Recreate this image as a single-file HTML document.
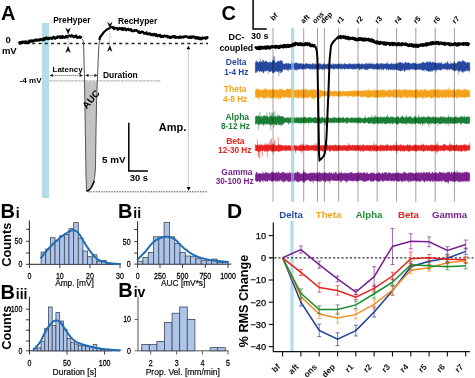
<!DOCTYPE html>
<html><head><meta charset="utf-8"><style>
html,body{margin:0;padding:0;background:#fff;}
svg{display:block;}
</style></head><body>
<svg width="475" height="378" viewBox="0 0 475 378">
<rect width="475" height="378" fill="#fff"/>
<text x="1" y="19.8" font-family="Liberation Sans" font-weight="bold" font-size="20" fill="#000" text-anchor="start" >A</text>
<rect x="42" y="23" width="7" height="175" fill="#b5dde8"/>
<text x="8.1" y="42.8" font-family="Liberation Sans" font-weight="bold" font-size="9.6" fill="#000" text-anchor="middle" >0</text>
<text x="9.3" y="54" font-family="Liberation Sans" font-weight="bold" font-size="9.5" fill="#000" text-anchor="middle" >mV</text>
<text x="53.2" y="23.2" font-family="Liberation Sans" font-weight="bold" font-size="8.4" fill="#000" text-anchor="start" >PreHyper</text>
<text x="117.9" y="24" font-family="Liberation Sans" font-weight="bold" font-size="8.45" fill="#000" text-anchor="start" >RecHyper</text>
<text x="52.6" y="71.6" font-family="Liberation Sans" font-weight="bold" font-size="7.95" fill="#000" text-anchor="start" >Latency</text>
<text x="103" y="78.4" font-family="Liberation Sans" font-weight="bold" font-size="8.45" fill="#000" text-anchor="start" >Duration</text>
<text x="19.6" y="82.6" font-family="Liberation Sans" font-weight="bold" font-size="8.1" fill="#000" text-anchor="start" >-4 mV</text>
<text x="158.8" y="130.9" font-family="Liberation Sans" font-weight="bold" font-size="11" fill="#000" text-anchor="start" >Amp.</text>
<text x="102" y="162.7" font-family="Liberation Sans" font-weight="bold" font-size="9.8" fill="#000" text-anchor="start" >5 mV</text>
<text x="129.7" y="181" font-family="Liberation Sans" font-weight="bold" font-size="9.4" fill="#000" text-anchor="start" >30 s</text>
<line x1="20" y1="43.5" x2="208" y2="43.5" stroke="#222" stroke-width="1.4" stroke-dasharray="3,3.2"/>
<line x1="49" y1="80.9" x2="161" y2="80.9" stroke="#a0a0a0" stroke-width="0.9" stroke-dasharray="3,0.6"/>
<line x1="88" y1="191.8" x2="207" y2="191.8" stroke="#444" stroke-width="0.9" stroke-dasharray="1.6,1"/>
<path d="M84.5,81.3 L85.3,130 L86,175 L86.6,191 Q90.5,190 92.3,185.5 Q95.2,180 95.5,165 L96,130 L96.6,100 L97.3,81.3 Z" fill="#c2c2c2"/>
<polyline points="18.70,43.11 19.20,42.64 19.70,43.66 20.20,42.29 20.70,43.22 21.20,42.76 21.70,42.00 22.20,42.90 22.70,41.77 23.20,42.56 23.70,41.67 24.20,41.63 24.70,42.27 25.20,43.07 25.70,41.43 26.20,41.56 26.70,42.36 27.20,42.98 27.70,42.08 28.20,41.59 28.70,42.78 29.20,40.64 29.70,42.34 30.20,41.00 30.70,40.59 31.20,40.44 31.70,40.77 32.20,41.80 32.70,40.31 33.20,41.10 33.70,41.14 34.20,40.46 34.70,40.76 35.20,39.60 35.70,39.51 36.20,39.74 36.70,40.69 37.20,40.04 37.70,39.71 38.20,40.21 38.70,39.83 39.20,39.40 39.70,40.40 40.20,40.10 40.70,39.02 41.20,39.66 41.70,39.47 42.20,40.15 42.70,39.75 43.20,38.69 43.70,40.13 44.20,38.15 44.70,38.72 45.20,39.38 45.70,37.97 46.20,38.62 46.70,37.55 47.20,38.85 47.70,38.97 48.20,38.47 48.70,39.05 49.20,37.73 49.70,38.48 50.20,38.19 50.70,38.13 51.20,37.82 51.70,38.63 52.20,38.82 52.70,37.75 53.20,38.14 53.70,36.77 54.20,38.15 54.70,37.99 55.20,38.72 55.70,38.31 56.20,37.09 56.70,37.28 57.20,37.87 57.70,36.41 58.20,37.34 58.70,36.66 59.20,36.51 59.70,36.35 60.20,37.87 60.70,36.41 61.20,36.61 61.70,36.87 62.20,37.87 62.70,36.07 63.20,36.83 63.70,36.99 64.20,37.67 64.70,37.47 65.20,37.52 65.70,36.17 66.20,36.42 66.70,36.24 67.20,37.34 67.70,37.44 68.20,35.63 68.70,35.67 69.20,35.78 69.70,35.76 70.20,36.30 70.70,36.52 71.20,35.79 71.70,35.20 72.20,36.10 72.70,35.98 73.20,36.40 73.70,37.23 74.20,36.64 74.70,36.24 75.20,36.51 75.70,36.77 76.20,35.53 76.70,37.52 77.20,37.39 77.70,37.73 78.20,37.69 78.70,36.93 79.20,37.07 79.70,36.55 80.20,37.93 80.70,36.99 81.20,37.33 81.70,37.96" fill="none" stroke="#000" stroke-width="2.3" stroke-linejoin="round"/>
<path d="M82,38.8 Q83.5,40 83.6,44 L84.5,81 L85.3,130 L86,175 L86.6,191 Q90.5,190 92.3,185.5 Q95.2,180 95.5,165 L96,130 L96.6,100 L97.3,81.3 L98.6,50 Q99,40 101,37 L105,31 L110,28.5" fill="none" stroke="#555" stroke-width="1"/>
<path d="M86.6,191.3 Q90.5,190 92.3,185.5 Q93.5,183.5 94.2,181" fill="none" stroke="#000" stroke-width="1.5"/>
<polyline points="110.00,27.12 110.50,27.55 111.00,27.05 111.50,27.01 112.00,27.38 112.50,27.35 113.00,27.95 113.50,27.34 114.00,29.11 114.50,28.66 115.00,27.80 115.50,28.04 116.00,28.27 116.50,28.34 117.00,27.89 117.50,29.38 118.00,29.71 118.50,28.69 119.00,28.76 119.50,28.00 120.00,28.07 120.50,28.59 121.00,28.47 121.50,29.63 122.00,28.34 122.50,28.10 123.00,29.99 123.50,29.18 124.00,28.45 124.50,29.28 125.00,28.29 125.50,29.33 126.00,30.26 126.50,30.07 127.00,29.77 127.50,28.94 128.00,29.19 128.50,28.82 129.00,30.07 129.50,29.63 130.00,30.16 130.50,29.37 131.00,29.28 131.50,30.57 132.00,31.03 132.50,30.88 133.00,30.90 133.50,31.04 134.00,31.00 134.50,30.09 135.00,30.79 135.50,30.58 136.00,30.04 136.50,30.15 137.00,30.77 137.50,30.84 138.00,31.83 138.50,32.47 139.00,31.56 139.50,32.66 140.00,32.88 140.50,32.91 141.00,31.83 141.50,31.64 142.00,31.75 142.50,31.79 143.00,31.91 143.50,32.85 144.00,33.50 144.50,33.48 145.00,32.86 145.50,33.31 146.00,33.70 146.50,32.37 147.00,33.62 147.50,34.22 148.00,34.06 148.50,34.10 149.00,33.66 149.50,33.16 150.00,34.48 150.50,33.66 151.00,34.69 151.50,35.13 152.00,34.07 152.50,34.18 153.00,35.36 153.50,35.01 154.00,34.00 154.50,34.01 155.00,34.15 155.50,35.75 156.00,35.65 156.50,34.43 157.00,35.88 157.50,36.29 158.00,35.73 158.50,35.22 159.00,35.71 159.50,34.97 160.00,34.83 160.50,36.80 161.00,36.21 161.50,36.02 162.00,36.89 162.50,35.94 163.00,36.87 163.50,36.84 164.00,35.66 164.50,35.80 165.00,35.94 165.50,35.89 166.00,36.63 166.50,36.03 167.00,36.41 167.50,35.89 168.00,37.50 168.50,36.44 169.00,36.71 169.50,37.01 170.00,37.71 170.50,36.77 171.00,37.79 171.50,36.98 172.00,37.06 172.50,37.07 173.00,36.09 173.50,36.96 174.00,36.47 174.50,36.13 175.00,37.75 175.50,36.52 176.00,37.15 176.50,37.68 177.00,37.36 177.50,36.93 178.00,37.34 178.50,37.44 179.00,37.92 179.50,36.59 180.00,37.52 180.50,36.79 181.00,36.73 181.50,37.61 182.00,36.98 182.50,36.97 183.00,37.26 183.50,37.45 184.00,36.41 184.50,36.64 185.00,36.31 185.50,36.39 186.00,36.83 186.50,36.41 187.00,36.65 187.50,36.61 188.00,37.60 188.50,37.19 189.00,37.61 189.50,37.81 190.00,36.52 190.50,37.18 191.00,38.01 191.50,37.86 192.00,36.51 192.50,36.54 193.00,37.24 193.50,36.57 194.00,36.96 194.50,36.69 195.00,37.94 195.50,38.23 196.00,38.51 196.50,37.09 197.00,38.27 197.50,38.22 198.00,37.25 198.50,38.79 199.00,39.02 199.50,37.58 200.00,39.11 200.50,38.00 201.00,38.19 201.50,39.20 202.00,38.89 202.50,37.55 203.00,38.10 203.50,38.27 204.00,37.93 204.50,37.65 205.00,37.90 205.50,38.71 206.00,37.31 206.50,38.39 207.00,38.17 207.50,37.33 208.00,37.96" fill="none" stroke="#000" stroke-width="2.3" stroke-linejoin="round"/>
<path d="M99.4,40 Q99.7,37.5 100.5,36.5 L104,32 L107,29.4 L110.5,27.8" fill="none" stroke="#000" stroke-width="2.1"/>
<path d="M65.89999999999999,28.3 L68.1,30.1 L70.3,28.3 L68.1,33.8 Z" fill="#000" stroke="#000" stroke-width="0.5" stroke-linejoin="round"/>
<path d="M65.89999999999999,52.4 L68.1,50.6 L70.3,52.4 L68.1,46.5 Z" fill="#000" stroke="#000" stroke-width="0.5" stroke-linejoin="round"/>
<line x1="68.1" y1="33.8" x2="68.1" y2="46.5" stroke="#999" stroke-width="0.8" stroke-dasharray="1,0.7"/>
<path d="M107.6,22.5 L109.8,24.3 L112.0,22.5 L109.8,27.6 Z" fill="#000" stroke="#000" stroke-width="0.5" stroke-linejoin="round"/>
<path d="M107.6,51.2 L109.8,49.400000000000006 L112.0,51.2 L109.8,45.8 Z" fill="#000" stroke="#000" stroke-width="0.5" stroke-linejoin="round"/>
<line x1="109.8" y1="27.6" x2="109.8" y2="45.8" stroke="#999" stroke-width="0.8" stroke-dasharray="1,0.7"/>
<line x1="52.6" y1="75.4" x2="80" y2="75.4" stroke="#444" stroke-width="0.8" stroke-dasharray="1.3,0.7"/>
<path d="M49.6,75.4 l3.6,-1.7 l-0.6,1.7 l0.6,1.7 z M83,75.4 l-3.6,-1.7 l0.6,1.7 l-0.6,1.7 z" fill="#111"/>
<line x1="88.2" y1="75.4" x2="94.6" y2="75.4" stroke="#444" stroke-width="0.8" stroke-dasharray="1.3,0.7"/>
<path d="M85.2,75.4 l3.6,-1.7 l-0.6,1.7 l0.6,1.7 z M97.6,75.4 l-3.6,-1.7 l0.6,1.7 l-0.6,1.7 z" fill="#111"/>
<line x1="188.3" y1="49" x2="188.3" y2="188" stroke="#777" stroke-width="0.6" stroke-dasharray="1.2,0.8"/>
<path d="M188.4,45.7 l-1.9,3.5 l3.8,0 z M188.6,190.8 l-1.9,-3.8 l3.8,0 z" fill="#000"/>
<text x="0" y="0" font-family="Liberation Sans" font-weight="bold" font-size="9.6" transform="translate(86.8,109.4) rotate(-50)">AUC</text>
<path d="M128.8,122.8 L128.8,171 L148,171" fill="none" stroke="#000" stroke-width="1.5"/>
<text x="0.4" y="218.2" font-family="Liberation Sans" font-weight="bold" font-size="20" fill="#000" text-anchor="start" >B</text>
<text x="15.8" y="218.2" font-family="Liberation Sans" font-weight="bold" font-size="14" fill="#000" text-anchor="start" >i</text>
<path d="M29.4,220.5 L29.4,264.3 L120,264.3" fill="none" stroke="#222" stroke-width="1"/>
<line x1="26.0" y1="229.3" x2="29.4" y2="229.3" stroke="#222" stroke-width="0.9"/>
<line x1="26.0" y1="241.3" x2="29.4" y2="241.3" stroke="#222" stroke-width="0.9"/>
<line x1="26.0" y1="253" x2="29.4" y2="253" stroke="#222" stroke-width="0.9"/>
<line x1="26.0" y1="264.3" x2="29.4" y2="264.3" stroke="#222" stroke-width="0.9"/>
<line x1="29.4" y1="264.3" x2="29.4" y2="268.1" stroke="#222" stroke-width="0.9"/>
<line x1="59.8" y1="264.3" x2="59.8" y2="268.1" stroke="#222" stroke-width="0.9"/>
<line x1="90" y1="264.3" x2="90" y2="268.1" stroke="#222" stroke-width="0.9"/>
<line x1="120" y1="264.3" x2="120" y2="268.1" stroke="#222" stroke-width="0.9"/>
<text x="0" y="0" font-family="Liberation Sans" font-size="8.6" text-anchor="end" fill="#000" stroke="#000" stroke-width="0.25" transform="translate(22.4,244.20000000000002) scale(0.82,1)">50</text>
<text x="0" y="0" font-family="Liberation Sans" font-size="8.6" text-anchor="end" fill="#000" stroke="#000" stroke-width="0.25" transform="translate(22.4,267.2) scale(0.82,1)">0</text>
<text x="0" y="0" font-family="Liberation Sans" font-size="8.6" text-anchor="middle" fill="#000" stroke="#000" stroke-width="0.25" transform="translate(29.4,278.8) scale(0.82,1)">0</text>
<text x="0" y="0" font-family="Liberation Sans" font-size="8.6" text-anchor="middle" fill="#000" stroke="#000" stroke-width="0.25" transform="translate(59.8,278.8) scale(0.82,1)">10</text>
<text x="0" y="0" font-family="Liberation Sans" font-size="8.6" text-anchor="middle" fill="#000" stroke="#000" stroke-width="0.25" transform="translate(90,278.8) scale(0.82,1)">20</text>
<text x="0" y="0" font-family="Liberation Sans" font-size="8.6" text-anchor="middle" fill="#000" stroke="#000" stroke-width="0.25" transform="translate(120,278.8) scale(0.82,1)">30</text>
<rect x="41.10" y="252.10" width="4.65" height="12.20" fill="#aec4e8" stroke="#3c4658" stroke-width="0.8"/>
<rect x="45.75" y="249.00" width="4.65" height="15.30" fill="#aec4e8" stroke="#3c4658" stroke-width="0.8"/>
<rect x="50.40" y="237.70" width="4.65" height="26.60" fill="#aec4e8" stroke="#3c4658" stroke-width="0.8"/>
<rect x="55.05" y="240.90" width="4.65" height="23.40" fill="#aec4e8" stroke="#3c4658" stroke-width="0.8"/>
<rect x="59.70" y="235.80" width="4.65" height="28.50" fill="#aec4e8" stroke="#3c4658" stroke-width="0.8"/>
<rect x="64.35" y="234.50" width="4.65" height="29.80" fill="#aec4e8" stroke="#3c4658" stroke-width="0.8"/>
<rect x="69.00" y="228.70" width="4.65" height="35.60" fill="#aec4e8" stroke="#3c4658" stroke-width="0.8"/>
<rect x="73.65" y="222.60" width="4.65" height="41.70" fill="#aec4e8" stroke="#3c4658" stroke-width="0.8"/>
<rect x="78.30" y="238.10" width="4.65" height="26.20" fill="#aec4e8" stroke="#3c4658" stroke-width="0.8"/>
<rect x="82.95" y="251.00" width="4.65" height="13.30" fill="#aec4e8" stroke="#3c4658" stroke-width="0.8"/>
<rect x="87.60" y="256.70" width="4.65" height="7.60" fill="#aec4e8" stroke="#3c4658" stroke-width="0.8"/>
<rect x="92.25" y="254.80" width="4.65" height="9.50" fill="#aec4e8" stroke="#3c4658" stroke-width="0.8"/>
<rect x="96.90" y="261.30" width="4.65" height="3.00" fill="#aec4e8" stroke="#3c4658" stroke-width="0.8"/>
<rect x="101.55" y="260.40" width="4.65" height="3.90" fill="#aec4e8" stroke="#3c4658" stroke-width="0.8"/>
<rect x="106.20" y="263.00" width="4.65" height="1.30" fill="#aec4e8" stroke="#3c4658" stroke-width="0.8"/>
<rect x="110.85" y="263.30" width="4.65" height="1.00" fill="#aec4e8" stroke="#3c4658" stroke-width="0.8"/>
<rect x="115.50" y="263.60" width="4.65" height="0.70" fill="#aec4e8" stroke="#3c4658" stroke-width="0.8"/>
<path d="M41.00,257.80 L41.69,256.96 L42.59,255.82 L43.67,254.47 L44.88,252.98 L46.16,251.41 L47.47,249.84 L48.77,248.35 L50.00,247.00 L51.23,245.74 L52.52,244.47 L53.85,243.22 L55.19,241.99 L56.50,240.82 L57.76,239.72 L58.93,238.70 L60.00,237.80 L60.94,237.02 L61.78,236.35 L62.54,235.78 L63.25,235.28 L63.93,234.82 L64.59,234.38 L65.28,233.95 L66.00,233.50 L66.75,233.01 L67.50,232.49 L68.25,231.98 L69.00,231.49 L69.75,231.05 L70.50,230.69 L71.25,230.43 L72.00,230.30 L72.74,230.26 L73.48,230.28 L74.21,230.38 L74.94,230.56 L75.68,230.86 L76.43,231.28 L77.20,231.86 L78.00,232.60 L78.84,233.58 L79.73,234.82 L80.64,236.25 L81.56,237.78 L82.48,239.36 L83.37,240.90 L84.21,242.34 L85.00,243.60 L85.72,244.71 L86.39,245.74 L87.02,246.70 L87.62,247.61 L88.21,248.49 L88.80,249.33 L89.39,250.17 L90.00,251.00 L90.62,251.83 L91.25,252.66 L91.88,253.46 L92.50,254.24 L93.12,254.99 L93.75,255.71 L94.38,256.38 L95.00,257.00 L95.59,257.56 L96.13,258.07 L96.66,258.53 L97.19,258.96 L97.76,259.36 L98.40,259.74 L99.14,260.12 L100.00,260.50 L101.01,260.89 L102.15,261.28 L103.38,261.65 L104.69,262.02 L106.03,262.36 L107.38,262.68 L108.72,262.96 L110.00,263.20 L111.32,263.40 L112.73,263.55 L114.19,263.67 L115.62,263.77 L116.98,263.84 L118.20,263.90 L119.23,263.95 L120.00,264.00" fill="none" stroke="#1f6db5" stroke-width="2" stroke-linejoin="round" stroke-linecap="round"/>
<text x="0" y="0" font-family="Liberation Sans" font-weight="bold" font-size="12.8" transform="translate(10.5,266.8) rotate(-90)">Counts</text>
<text x="74.5" y="285.6" font-family="Liberation Sans" font-size="8.3" text-anchor="middle" fill="#111" stroke="#111" stroke-width="0.22">Amp. [mV]</text>
<text x="117.9" y="218.2" font-family="Liberation Sans" font-weight="bold" font-size="20" fill="#000" text-anchor="start" >B</text>
<text x="133.3" y="218.2" font-family="Liberation Sans" font-weight="bold" font-size="14" fill="#000" text-anchor="start" >ii</text>
<path d="M137.6,221.3 L137.6,264.1 L231.2,264.1" fill="none" stroke="#222" stroke-width="1"/>
<line x1="134.2" y1="229.5" x2="137.6" y2="229.5" stroke="#222" stroke-width="0.9"/>
<line x1="134.2" y1="241.6" x2="137.6" y2="241.6" stroke="#222" stroke-width="0.9"/>
<line x1="134.2" y1="253.1" x2="137.6" y2="253.1" stroke="#222" stroke-width="0.9"/>
<line x1="134.2" y1="264.1" x2="137.6" y2="264.1" stroke="#222" stroke-width="0.9"/>
<line x1="137.6" y1="264.1" x2="137.6" y2="267.90000000000003" stroke="#222" stroke-width="0.9"/>
<line x1="160" y1="264.1" x2="160" y2="267.90000000000003" stroke="#222" stroke-width="0.9"/>
<line x1="182.5" y1="264.1" x2="182.5" y2="267.90000000000003" stroke="#222" stroke-width="0.9"/>
<line x1="205.3" y1="264.1" x2="205.3" y2="267.90000000000003" stroke="#222" stroke-width="0.9"/>
<line x1="228" y1="264.1" x2="228" y2="267.90000000000003" stroke="#222" stroke-width="0.9"/>
<text x="0" y="0" font-family="Liberation Sans" font-size="8.6" text-anchor="end" fill="#000" stroke="#000" stroke-width="0.25" transform="translate(130.6,244.5) scale(0.82,1)">50</text>
<text x="0" y="0" font-family="Liberation Sans" font-size="8.6" text-anchor="end" fill="#000" stroke="#000" stroke-width="0.25" transform="translate(130.6,267.0) scale(0.82,1)">0</text>
<text x="0" y="0" font-family="Liberation Sans" font-size="8.6" text-anchor="middle" fill="#000" stroke="#000" stroke-width="0.25" transform="translate(137.6,278.6) scale(0.82,1)">0</text>
<text x="0" y="0" font-family="Liberation Sans" font-size="8.6" text-anchor="middle" fill="#000" stroke="#000" stroke-width="0.25" transform="translate(160,278.6) scale(0.82,1)">250</text>
<text x="0" y="0" font-family="Liberation Sans" font-size="8.6" text-anchor="middle" fill="#000" stroke="#000" stroke-width="0.25" transform="translate(182.5,278.6) scale(0.82,1)">500</text>
<text x="0" y="0" font-family="Liberation Sans" font-size="8.6" text-anchor="middle" fill="#000" stroke="#000" stroke-width="0.25" transform="translate(205.3,278.6) scale(0.82,1)">750</text>
<text x="0" y="0" font-family="Liberation Sans" font-size="8.6" text-anchor="middle" fill="#000" stroke="#000" stroke-width="0.25" transform="translate(228,278.6) scale(0.82,1)">1000</text>
<rect x="137.60" y="261.20" width="5.30" height="2.90" fill="#aec4e8" stroke="#3c4658" stroke-width="0.8"/>
<rect x="142.90" y="257.40" width="5.30" height="6.70" fill="#aec4e8" stroke="#3c4658" stroke-width="0.8"/>
<rect x="148.20" y="252.50" width="5.30" height="11.60" fill="#aec4e8" stroke="#3c4658" stroke-width="0.8"/>
<rect x="153.50" y="236.80" width="5.30" height="27.30" fill="#aec4e8" stroke="#3c4658" stroke-width="0.8"/>
<rect x="158.80" y="236.80" width="5.30" height="27.30" fill="#aec4e8" stroke="#3c4658" stroke-width="0.8"/>
<rect x="164.10" y="222.30" width="5.30" height="41.80" fill="#aec4e8" stroke="#3c4658" stroke-width="0.8"/>
<rect x="169.40" y="236.80" width="5.30" height="27.30" fill="#aec4e8" stroke="#3c4658" stroke-width="0.8"/>
<rect x="174.70" y="243.50" width="5.30" height="20.60" fill="#aec4e8" stroke="#3c4658" stroke-width="0.8"/>
<rect x="180.00" y="252.30" width="5.30" height="11.80" fill="#aec4e8" stroke="#3c4658" stroke-width="0.8"/>
<rect x="185.30" y="256.00" width="5.30" height="8.10" fill="#aec4e8" stroke="#3c4658" stroke-width="0.8"/>
<rect x="190.60" y="256.70" width="5.30" height="7.40" fill="#aec4e8" stroke="#3c4658" stroke-width="0.8"/>
<rect x="195.90" y="258.70" width="5.30" height="5.40" fill="#aec4e8" stroke="#3c4658" stroke-width="0.8"/>
<rect x="201.20" y="260.70" width="5.30" height="3.40" fill="#aec4e8" stroke="#3c4658" stroke-width="0.8"/>
<rect x="206.50" y="260.70" width="5.30" height="3.40" fill="#aec4e8" stroke="#3c4658" stroke-width="0.8"/>
<rect x="211.80" y="259.10" width="5.30" height="5.00" fill="#aec4e8" stroke="#3c4658" stroke-width="0.8"/>
<rect x="217.10" y="262.30" width="5.30" height="1.80" fill="#aec4e8" stroke="#3c4658" stroke-width="0.8"/>
<rect x="222.40" y="262.30" width="5.30" height="1.80" fill="#aec4e8" stroke="#3c4658" stroke-width="0.8"/>
<path d="M137.60,259.30 L138.17,258.75 L138.94,258.02 L139.85,257.15 L140.86,256.18 L141.93,255.15 L143.00,254.08 L144.04,253.02 L145.00,252.00 L145.90,250.97 L146.80,249.87 L147.70,248.72 L148.59,247.57 L149.47,246.45 L150.33,245.37 L151.18,244.38 L152.00,243.50 L152.79,242.73 L153.55,242.04 L154.28,241.42 L155.00,240.86 L155.72,240.34 L156.45,239.87 L157.21,239.43 L158.00,239.00 L158.83,238.59 L159.70,238.22 L160.60,237.87 L161.50,237.57 L162.40,237.30 L163.30,237.09 L164.17,236.92 L165.00,236.80 L165.80,236.74 L166.59,236.74 L167.37,236.80 L168.12,236.89 L168.87,237.03 L169.59,237.20 L170.30,237.39 L171.00,237.60 L171.68,237.84 L172.34,238.11 L172.99,238.41 L173.62,238.74 L174.24,239.09 L174.84,239.47 L175.43,239.88 L176.00,240.30 L176.54,240.75 L177.05,241.24 L177.53,241.75 L178.00,242.29 L178.47,242.84 L178.95,243.39 L179.46,243.95 L180.00,244.50 L180.56,245.04 L181.13,245.59 L181.71,246.14 L182.31,246.70 L182.93,247.26 L183.59,247.83 L184.27,248.41 L185.00,249.00 L185.77,249.61 L186.59,250.25 L187.43,250.90 L188.31,251.56 L189.21,252.21 L190.13,252.84 L191.06,253.44 L192.00,254.00 L192.94,254.52 L193.88,255.01 L194.84,255.47 L195.81,255.91 L196.81,256.33 L197.84,256.74 L198.90,257.13 L200.00,257.50 L201.15,257.86 L202.36,258.20 L203.60,258.53 L204.88,258.84 L206.16,259.13 L207.45,259.40 L208.74,259.66 L210.00,259.90 L211.26,260.12 L212.55,260.31 L213.84,260.49 L215.12,260.65 L216.40,260.80 L217.64,260.94 L218.85,261.07 L220.00,261.20 L221.15,261.33 L222.33,261.45 L223.50,261.57 L224.62,261.68 L225.67,261.78 L226.61,261.87 L227.40,261.94 L228.00,262.00" fill="none" stroke="#1f6db5" stroke-width="2" stroke-linejoin="round" stroke-linecap="round"/>
<text x="183.2" y="285.8" font-family="Liberation Sans" font-size="8.3" text-anchor="middle" fill="#111" stroke="#111" stroke-width="0.22">AUC [mV*s]</text>
<text x="0.4" y="298.6" font-family="Liberation Sans" font-weight="bold" font-size="20" fill="#000" text-anchor="start" >B</text>
<text x="15.8" y="298.6" font-family="Liberation Sans" font-weight="bold" font-size="14" fill="#000" text-anchor="start" >iii</text>
<path d="M29.4,296.7 L29.4,350.8 L120,350.8" fill="none" stroke="#222" stroke-width="1"/>
<line x1="26.0" y1="309.2" x2="29.4" y2="309.2" stroke="#222" stroke-width="0.9"/>
<line x1="26.0" y1="319.8" x2="29.4" y2="319.8" stroke="#222" stroke-width="0.9"/>
<line x1="26.0" y1="330.2" x2="29.4" y2="330.2" stroke="#222" stroke-width="0.9"/>
<line x1="26.0" y1="341" x2="29.4" y2="341" stroke="#222" stroke-width="0.9"/>
<line x1="26.0" y1="350.8" x2="29.4" y2="350.8" stroke="#222" stroke-width="0.9"/>
<line x1="29.5" y1="350.8" x2="29.5" y2="354.6" stroke="#222" stroke-width="0.9"/>
<line x1="67" y1="350.8" x2="67" y2="354.6" stroke="#222" stroke-width="0.9"/>
<line x1="104.6" y1="350.8" x2="104.6" y2="354.6" stroke="#222" stroke-width="0.9"/>
<text x="0" y="0" font-family="Liberation Sans" font-size="8.6" text-anchor="end" fill="#000" stroke="#000" stroke-width="0.25" transform="translate(22.4,312.09999999999997) scale(0.82,1)">100</text>
<text x="0" y="0" font-family="Liberation Sans" font-size="8.6" text-anchor="end" fill="#000" stroke="#000" stroke-width="0.25" transform="translate(22.4,353.7) scale(0.82,1)">0</text>
<text x="0" y="0" font-family="Liberation Sans" font-size="8.6" text-anchor="middle" fill="#000" stroke="#000" stroke-width="0.25" transform="translate(29.5,366.2) scale(0.82,1)">0</text>
<text x="0" y="0" font-family="Liberation Sans" font-size="8.6" text-anchor="middle" fill="#000" stroke="#000" stroke-width="0.25" transform="translate(67,366.2) scale(0.82,1)">50</text>
<text x="0" y="0" font-family="Liberation Sans" font-size="8.6" text-anchor="middle" fill="#000" stroke="#000" stroke-width="0.25" transform="translate(104.6,366.2) scale(0.82,1)">100</text>
<rect x="33.60" y="348.70" width="3.72" height="2.10" fill="#aec4e8" stroke="#3c4658" stroke-width="0.8"/>
<rect x="37.32" y="347.80" width="3.72" height="3.00" fill="#aec4e8" stroke="#3c4658" stroke-width="0.8"/>
<rect x="41.04" y="341.30" width="3.72" height="9.50" fill="#aec4e8" stroke="#3c4658" stroke-width="0.8"/>
<rect x="44.76" y="328.30" width="3.72" height="22.50" fill="#aec4e8" stroke="#3c4658" stroke-width="0.8"/>
<rect x="48.48" y="307.00" width="3.72" height="43.80" fill="#aec4e8" stroke="#3c4658" stroke-width="0.8"/>
<rect x="52.20" y="325.60" width="3.72" height="25.20" fill="#aec4e8" stroke="#3c4658" stroke-width="0.8"/>
<rect x="55.92" y="312.60" width="3.72" height="38.20" fill="#aec4e8" stroke="#3c4658" stroke-width="0.8"/>
<rect x="59.64" y="321.00" width="3.72" height="29.80" fill="#aec4e8" stroke="#3c4658" stroke-width="0.8"/>
<rect x="63.36" y="329.30" width="3.72" height="21.50" fill="#aec4e8" stroke="#3c4658" stroke-width="0.8"/>
<rect x="67.08" y="338.50" width="3.72" height="12.30" fill="#aec4e8" stroke="#3c4658" stroke-width="0.8"/>
<rect x="70.80" y="342.20" width="3.72" height="8.60" fill="#aec4e8" stroke="#3c4658" stroke-width="0.8"/>
<rect x="74.52" y="344.00" width="3.72" height="6.80" fill="#aec4e8" stroke="#3c4658" stroke-width="0.8"/>
<rect x="78.24" y="345.20" width="3.72" height="5.60" fill="#aec4e8" stroke="#3c4658" stroke-width="0.8"/>
<rect x="81.96" y="345.90" width="3.72" height="4.90" fill="#aec4e8" stroke="#3c4658" stroke-width="0.8"/>
<rect x="85.68" y="346.50" width="3.72" height="4.30" fill="#aec4e8" stroke="#3c4658" stroke-width="0.8"/>
<rect x="89.40" y="346.80" width="3.72" height="4.00" fill="#aec4e8" stroke="#3c4658" stroke-width="0.8"/>
<rect x="93.12" y="344.60" width="3.72" height="6.20" fill="#aec4e8" stroke="#3c4658" stroke-width="0.8"/>
<rect x="96.84" y="348.00" width="3.72" height="2.80" fill="#aec4e8" stroke="#3c4658" stroke-width="0.8"/>
<rect x="100.56" y="348.80" width="3.72" height="2.00" fill="#aec4e8" stroke="#3c4658" stroke-width="0.8"/>
<rect x="104.28" y="349.30" width="3.72" height="1.50" fill="#aec4e8" stroke="#3c4658" stroke-width="0.8"/>
<rect x="108.00" y="349.80" width="3.72" height="1.00" fill="#aec4e8" stroke="#3c4658" stroke-width="0.8"/>
<path d="M33.50,349.60 L34.01,349.04 L34.70,348.32 L35.53,347.47 L36.44,346.51 L37.39,345.47 L38.33,344.39 L39.21,343.29 L40.00,342.20 L40.70,341.08 L41.36,339.89 L41.98,338.64 L42.59,337.37 L43.19,336.09 L43.79,334.84 L44.39,333.63 L45.00,332.50 L45.62,331.42 L46.25,330.35 L46.88,329.31 L47.50,328.31 L48.12,327.34 L48.75,326.43 L49.38,325.58 L50.00,324.80 L50.62,324.07 L51.25,323.37 L51.88,322.72 L52.50,322.13 L53.12,321.61 L53.75,321.17 L54.38,320.83 L55.00,320.60 L55.62,320.47 L56.25,320.43 L56.88,320.47 L57.50,320.60 L58.12,320.82 L58.75,321.12 L59.38,321.52 L60.00,322.00 L60.62,322.61 L61.25,323.35 L61.88,324.21 L62.50,325.14 L63.12,326.11 L63.75,327.10 L64.38,328.08 L65.00,329.00 L65.62,329.91 L66.25,330.84 L66.88,331.79 L67.50,332.74 L68.12,333.67 L68.75,334.56 L69.38,335.41 L70.00,336.20 L70.62,336.93 L71.25,337.62 L71.88,338.28 L72.50,338.89 L73.12,339.47 L73.75,340.02 L74.38,340.53 L75.00,341.00 L75.59,341.42 L76.13,341.78 L76.66,342.08 L77.19,342.36 L77.76,342.63 L78.40,342.89 L79.14,343.18 L80.00,343.50 L81.01,343.86 L82.15,344.24 L83.38,344.63 L84.69,345.03 L86.03,345.42 L87.38,345.80 L88.72,346.16 L90.00,346.50 L91.25,346.81 L92.50,347.11 L93.75,347.40 L95.00,347.67 L96.25,347.93 L97.50,348.17 L98.75,348.39 L100.00,348.60 L101.25,348.79 L102.50,348.96 L103.75,349.11 L105.00,349.24 L106.25,349.37 L107.50,349.48 L108.75,349.59 L110.00,349.70 L111.32,349.80 L112.73,349.90 L114.19,349.99 L115.62,350.07 L116.98,350.14 L118.20,350.20 L119.23,350.26 L120.00,350.30" fill="none" stroke="#1f6db5" stroke-width="2" stroke-linejoin="round" stroke-linecap="round"/>
<text x="0" y="0" font-family="Liberation Sans" font-weight="bold" font-size="12.8" transform="translate(10.5,349.8) rotate(-90)">Counts</text>
<text x="74.4" y="374.9" font-family="Liberation Sans" font-size="8.6" text-anchor="middle" fill="#111" stroke="#111" stroke-width="0.22">Duration [s]</text>
<text x="118.3" y="296.7" font-family="Liberation Sans" font-weight="bold" font-size="20" fill="#000" text-anchor="start" >B</text>
<text x="133.7" y="296.7" font-family="Liberation Sans" font-weight="bold" font-size="14" fill="#000" text-anchor="start" >iv</text>
<path d="M138,296.7 L138,350.8 L228.5,350.8" fill="none" stroke="#555" stroke-width="1"/>
<line x1="134.6" y1="319.5" x2="138" y2="319.5" stroke="#555" stroke-width="0.9"/>
<line x1="134.6" y1="350.8" x2="138" y2="350.8" stroke="#555" stroke-width="0.9"/>
<line x1="150.7" y1="350.8" x2="150.7" y2="354.6" stroke="#555" stroke-width="0.9"/>
<line x1="176.6" y1="350.8" x2="176.6" y2="354.6" stroke="#555" stroke-width="0.9"/>
<line x1="202.4" y1="350.8" x2="202.4" y2="354.6" stroke="#555" stroke-width="0.9"/>
<line x1="228" y1="350.8" x2="228" y2="354.6" stroke="#555" stroke-width="0.9"/>
<text x="0" y="0" font-family="Liberation Sans" font-size="8.6" text-anchor="end" fill="#000" stroke="#000" stroke-width="0.25" transform="translate(131,322.4) scale(0.82,1)">10</text>
<text x="0" y="0" font-family="Liberation Sans" font-size="8.6" text-anchor="end" fill="#000" stroke="#000" stroke-width="0.25" transform="translate(131,353.7) scale(0.82,1)">0</text>
<text x="0" y="0" font-family="Liberation Sans" font-size="8.6" text-anchor="middle" fill="#000" stroke="#000" stroke-width="0.25" transform="translate(150.7,366.0) scale(0.82,1)">2</text>
<text x="0" y="0" font-family="Liberation Sans" font-size="8.6" text-anchor="middle" fill="#000" stroke="#000" stroke-width="0.25" transform="translate(176.6,366.0) scale(0.82,1)">3</text>
<text x="0" y="0" font-family="Liberation Sans" font-size="8.6" text-anchor="middle" fill="#000" stroke="#000" stroke-width="0.25" transform="translate(202.4,366.0) scale(0.82,1)">4</text>
<text x="0" y="0" font-family="Liberation Sans" font-size="8.6" text-anchor="middle" fill="#000" stroke="#000" stroke-width="0.25" transform="translate(228,366.0) scale(0.82,1)">5</text>
<rect x="141.70" y="344.54" width="7.60" height="6.26" fill="#aec4e8" stroke="#3c4658" stroke-width="0.8"/>
<rect x="149.30" y="344.54" width="7.60" height="6.26" fill="#aec4e8" stroke="#3c4658" stroke-width="0.8"/>
<rect x="156.90" y="341.41" width="7.60" height="9.39" fill="#aec4e8" stroke="#3c4658" stroke-width="0.8"/>
<rect x="164.50" y="322.63" width="7.60" height="28.17" fill="#aec4e8" stroke="#3c4658" stroke-width="0.8"/>
<rect x="172.10" y="313.24" width="7.60" height="37.56" fill="#aec4e8" stroke="#3c4658" stroke-width="0.8"/>
<rect x="179.70" y="306.98" width="7.60" height="43.82" fill="#aec4e8" stroke="#3c4658" stroke-width="0.8"/>
<rect x="187.30" y="319.50" width="7.60" height="31.30" fill="#aec4e8" stroke="#3c4658" stroke-width="0.8"/>
<rect x="210.10" y="347.67" width="7.60" height="3.13" fill="#aec4e8" stroke="#3c4658" stroke-width="0.8"/>
<rect x="217.70" y="347.67" width="7.60" height="3.13" fill="#aec4e8" stroke="#3c4658" stroke-width="0.8"/>
<text x="182.8" y="374.6" font-family="Liberation Sans" font-size="8.5" text-anchor="middle" fill="#111" stroke="#111" stroke-width="0.22">Prop. Vel. [mm/min]</text>
<text x="221.5" y="19.8" font-family="Liberation Sans" font-weight="bold" font-size="20" fill="#000" text-anchor="start" >C</text>
<path d="M253.1,0 L253.1,29 L266.8,29" fill="none" stroke="#000" stroke-width="1.5"/>
<text x="251" y="38.8" font-family="Liberation Sans" font-weight="bold" font-size="9" fill="#000" text-anchor="start" >30 s</text>
<text x="236.5" y="39.9" font-family="Liberation Sans" font-weight="bold" font-size="9" fill="#000" text-anchor="middle" >DC-</text>
<text x="236.3" y="51.3" font-family="Liberation Sans" font-weight="bold" font-size="8.8" fill="#000" text-anchor="middle" >coupled</text>
<text x="236.2" y="65.1" font-family="Liberation Sans" font-weight="bold" font-size="8.5" fill="#2648a0" text-anchor="middle" >Delta</text>
<text x="236.3" y="74.6" font-family="Liberation Sans" font-weight="bold" font-size="8.2" fill="#2648a0" text-anchor="middle" >1-4 Hz</text>
<text x="235.2" y="91.6" font-family="Liberation Sans" font-weight="bold" font-size="8.5" fill="#f5a21b" text-anchor="middle" >Theta</text>
<text x="235.1" y="101.6" font-family="Liberation Sans" font-weight="bold" font-size="8.2" fill="#f5a21b" text-anchor="middle" >4-8 Hz</text>
<text x="237.3" y="120" font-family="Liberation Sans" font-weight="bold" font-size="8.5" fill="#1a7f35" text-anchor="middle" >Alpha</text>
<text x="235.4" y="128.8" font-family="Liberation Sans" font-weight="bold" font-size="8.2" fill="#1a7f35" text-anchor="middle" >8-12 Hz</text>
<text x="235.4" y="144.4" font-family="Liberation Sans" font-weight="bold" font-size="8.5" fill="#e8231f" text-anchor="middle" >Beta</text>
<text x="234.7" y="153.4" font-family="Liberation Sans" font-weight="bold" font-size="8.2" fill="#e8231f" text-anchor="middle" >12-30 Hz</text>
<text x="236.9" y="175.3" font-family="Liberation Sans" font-weight="bold" font-size="8.5" fill="#7a208f" text-anchor="middle" >Gamma</text>
<text x="234.6" y="184.4" font-family="Liberation Sans" font-weight="bold" font-size="8.2" fill="#7a208f" text-anchor="middle" >30-100 Hz</text>
<rect x="291" y="27.8" width="3.2" height="174.2" fill="#b5dde8"/>
<path d="M255.30,62.40 L255.80,62.24 L256.30,60.45 L256.80,62.36 L257.30,61.82 L257.80,62.14 L258.30,62.28 L258.80,62.62 L259.30,61.79 L259.80,61.15 L260.30,62.52 L260.80,62.41 L261.30,61.93 L261.80,61.32 L262.30,62.28 L262.80,60.19 L263.30,59.75 L263.80,62.43 L264.30,61.70 L264.80,62.00 L265.30,61.62 L265.80,62.08 L266.30,61.15 L266.80,61.28 L267.30,63.15 L267.80,61.97 L268.30,62.99 L268.80,62.20 L269.30,62.85 L269.80,62.62 L270.30,61.59 L270.80,61.96 L271.30,62.92 L271.80,62.22 L272.30,61.77 L272.80,60.78 L273.30,61.60 L273.80,60.49 L274.30,60.07 L274.80,61.25 L275.30,62.76 L275.80,62.94 L276.30,62.72 L276.80,62.02 L277.30,61.31 L277.80,61.00 L278.30,61.70 L278.80,60.89 L279.30,62.18 L279.80,60.69 L280.30,60.35 L280.80,61.36 L281.30,61.55 L281.80,60.36 L282.30,61.60 L282.80,63.81 L283.30,63.83 L283.80,64.00 L284.30,63.67 L284.80,64.16 L285.30,63.85 L285.80,63.80 L286.30,63.71 L286.80,62.69 L287.30,63.97 L287.80,63.99 L288.30,62.94 L288.80,64.05 L289.30,63.97 L289.80,63.94 L290.30,63.91 L290.80,63.93 L291.30,63.37 L291.80,62.63 L292.30,63.40 L292.80,64.12 L293.30,63.84 L293.80,63.90 L294.30,63.36 L294.80,62.80 L295.30,63.40 L295.80,63.02 L296.30,63.06 L296.80,62.82 L297.30,63.15 L297.80,63.40 L298.30,64.03 L298.80,63.53 L299.30,63.39 L299.80,64.01 L300.30,63.48 L300.80,63.75 L301.30,63.97 L301.80,63.32 L302.30,63.93 L302.80,64.45 L303.30,63.92 L303.80,63.91 L304.30,64.70 L304.80,64.48 L305.30,63.64 L305.80,63.52 L306.30,63.47 L306.80,63.82 L307.30,63.72 L307.80,63.96 L308.30,64.26 L308.80,64.05 L309.30,63.64 L309.80,64.32 L310.30,64.10 L310.80,64.41 L311.30,64.34 L311.80,64.42 L312.30,64.29 L312.80,63.19 L313.30,64.14 L313.80,63.42 L314.30,64.45 L314.80,64.69 L315.30,63.83 L315.80,63.81 L316.30,64.72 L316.80,64.90 L317.30,64.52 L317.80,64.78 L318.30,63.62 L318.80,64.36 L319.30,63.53 L319.80,63.78 L320.30,63.56 L320.80,64.32 L321.30,64.41 L321.80,64.86 L322.30,64.54 L322.80,64.40 L323.30,63.72 L323.80,63.92 L324.30,64.09 L324.80,64.88 L325.30,64.26 L325.80,64.52 L326.30,64.59 L326.80,64.27 L327.30,63.97 L327.80,63.71 L328.30,63.38 L328.80,64.57 L329.30,64.65 L329.80,64.24 L330.30,64.64 L330.80,64.56 L331.30,64.55 L331.80,64.64 L332.30,64.61 L332.80,64.68 L333.30,63.73 L333.80,64.53 L334.30,64.42 L334.80,63.78 L335.30,64.40 L335.80,63.84 L336.30,64.02 L336.80,64.45 L337.30,63.89 L337.80,64.62 L338.30,64.49 L338.80,63.96 L339.30,64.24 L339.80,64.33 L340.30,63.91 L340.80,64.66 L341.30,64.07 L341.80,63.59 L342.30,64.22 L342.80,64.65 L343.30,64.23 L343.80,64.56 L344.30,63.59 L344.80,63.37 L345.30,64.17 L345.80,64.61 L346.30,63.90 L346.80,63.91 L347.30,64.49 L347.80,64.75 L348.30,63.88 L348.80,64.05 L349.30,64.11 L349.80,64.50 L350.30,63.65 L350.80,63.79 L351.30,64.45 L351.80,63.77 L352.30,63.89 L352.80,64.23 L353.30,64.36 L353.80,63.90 L354.30,64.53 L354.80,63.44 L355.30,64.39 L355.80,64.24 L356.30,64.04 L356.80,64.21 L357.30,64.06 L357.80,64.00 L358.30,63.74 L358.80,63.62 L359.30,63.96 L359.80,63.54 L360.30,63.97 L360.80,64.47 L361.30,63.63 L361.80,64.54 L362.30,64.11 L362.80,63.76 L363.30,63.90 L363.80,64.29 L364.30,64.60 L364.80,64.29 L365.30,64.26 L365.80,63.11 L366.30,63.21 L366.80,64.14 L367.30,63.92 L367.80,63.65 L368.30,63.86 L368.80,64.20 L369.30,63.63 L369.80,64.09 L370.30,63.89 L370.80,63.67 L371.30,63.85 L371.80,64.08 L372.30,64.32 L372.80,63.96 L373.30,64.18 L373.80,64.14 L374.30,63.96 L374.80,64.51 L375.30,64.61 L375.80,63.64 L376.30,63.39 L376.80,63.69 L377.30,63.99 L377.80,63.37 L378.30,63.57 L378.80,64.10 L379.30,64.44 L379.80,64.49 L380.30,63.64 L380.80,63.33 L381.30,63.61 L381.80,63.19 L382.30,63.65 L382.80,64.25 L383.30,63.83 L383.80,63.64 L384.30,64.16 L384.80,63.92 L385.30,63.99 L385.80,63.93 L386.30,63.74 L386.80,63.23 L387.30,64.01 L387.80,63.50 L388.30,64.28 L388.80,64.10 L389.30,64.51 L389.80,63.67 L390.30,64.11 L390.80,64.25 L391.30,63.50 L391.80,63.21 L392.30,64.01 L392.80,64.17 L393.30,63.89 L393.80,63.70 L394.30,63.88 L394.80,63.99 L395.30,64.25 L395.80,63.49 L396.30,63.66 L396.80,63.81 L397.30,62.97 L397.80,63.69 L398.30,63.31 L398.80,62.89 L399.30,62.09 L399.80,62.75 L400.30,62.08 L400.80,62.50 L401.30,63.08 L401.80,62.93 L402.30,62.45 L402.80,63.82 L403.30,63.50 L403.80,63.78 L404.30,63.51 L404.80,62.63 L405.30,61.91 L405.80,62.38 L406.30,63.14 L406.80,62.69 L407.30,63.00 L407.80,63.06 L408.30,62.61 L408.80,62.89 L409.30,63.01 L409.80,63.24 L410.30,63.59 L410.80,63.84 L411.30,63.70 L411.80,64.14 L412.30,63.38 L412.80,62.78 L413.30,63.03 L413.80,62.83 L414.30,63.94 L414.80,63.28 L415.30,63.19 L415.80,63.18 L416.30,63.77 L416.80,63.63 L417.30,64.34 L417.80,64.34 L418.30,64.30 L418.80,63.30 L419.30,63.91 L419.80,63.49 L420.30,63.68 L420.80,63.19 L421.30,63.61 L421.80,62.68 L422.30,62.40 L422.80,62.90 L423.30,61.76 L423.80,63.06 L424.30,63.11 L424.80,62.87 L425.30,62.70 L425.80,63.20 L426.30,63.12 L426.80,61.33 L427.30,62.03 L427.80,63.02 L428.30,61.99 L428.80,62.34 L429.30,62.50 L429.80,61.87 L430.30,61.25 L430.80,62.43 L431.30,62.97 L431.80,63.07 L432.30,61.82 L432.80,62.42 L433.30,62.82 L433.80,62.04 L434.30,62.52 L434.80,63.24 L435.30,62.94 L435.80,62.68 L436.30,63.35 L436.80,63.19 L437.30,63.37 L437.80,63.25 L438.30,62.57 L438.80,63.69 L439.30,63.56 L439.80,62.53 L440.30,63.58 L440.80,63.49 L441.30,62.28 L441.80,63.54 L442.30,63.74 L442.80,64.63 L443.30,63.82 L443.80,63.84 L444.30,63.44 L444.80,64.15 L445.30,63.39 L445.80,62.93 L446.30,62.61 L446.80,63.69 L447.30,62.57 L447.80,63.13 L448.30,63.21 L448.80,63.89 L449.30,63.77 L449.80,64.36 L450.30,64.44 L450.80,63.65 L451.30,63.13 L451.80,63.52 L452.30,63.52 L452.80,63.64 L453.30,63.86 L453.80,62.91 L454.30,61.86 L454.80,63.31 L455.30,63.32 L455.80,63.48 L456.30,63.87 L456.80,63.23 L457.30,62.31 L457.80,62.19 L458.30,61.53 L458.80,61.74 L459.30,61.24 L459.80,61.03 L460.30,62.48 L460.80,61.50 L461.30,61.62 L461.80,62.50 L462.30,60.78 L462.80,60.49 L463.30,60.58 L463.80,61.31 L464.30,61.90 L464.80,61.37 L465.30,62.52 L465.80,62.15 L466.30,63.79 L466.80,63.09 L467.30,62.28 L467.80,62.60 L468.30,62.87 L468.80,62.44 L469.30,62.22 L469.80,63.23 L469.80,70.76 L469.30,70.04 L468.80,70.97 L468.30,70.11 L467.80,70.61 L467.30,70.70 L466.80,69.62 L466.30,69.83 L465.80,71.25 L465.30,69.96 L464.80,71.49 L464.30,70.98 L463.80,71.09 L463.30,72.02 L462.80,72.75 L462.30,71.05 L461.80,72.20 L461.30,70.61 L460.80,70.38 L460.30,70.82 L459.80,71.42 L459.30,70.18 L458.80,70.67 L458.30,71.80 L457.80,70.40 L457.30,69.94 L456.80,70.14 L456.30,69.61 L455.80,70.69 L455.30,70.11 L454.80,70.92 L454.30,71.18 L453.80,70.00 L453.30,70.05 L452.80,69.91 L452.30,69.90 L451.80,69.20 L451.30,69.00 L450.80,69.09 L450.30,69.03 L449.80,69.38 L449.30,69.73 L448.80,68.68 L448.30,69.31 L447.80,70.30 L447.30,69.36 L446.80,69.59 L446.30,69.00 L445.80,69.43 L445.30,68.99 L444.80,68.79 L444.30,69.58 L443.80,68.95 L443.30,68.39 L442.80,69.24 L442.30,69.04 L441.80,69.68 L441.30,69.28 L440.80,70.37 L440.30,69.88 L439.80,70.30 L439.30,69.65 L438.80,69.01 L438.30,69.46 L437.80,70.47 L437.30,69.58 L436.80,69.94 L436.30,70.36 L435.80,69.27 L435.30,69.29 L434.80,69.70 L434.30,70.14 L433.80,69.88 L433.30,70.02 L432.80,71.39 L432.30,70.51 L431.80,69.93 L431.30,71.60 L430.80,70.99 L430.30,71.01 L429.80,71.71 L429.30,70.76 L428.80,71.33 L428.30,71.57 L427.80,70.43 L427.30,71.12 L426.80,70.84 L426.30,70.83 L425.80,70.08 L425.30,69.39 L424.80,69.60 L424.30,69.50 L423.80,70.14 L423.30,70.32 L422.80,70.57 L422.30,70.59 L421.80,69.42 L421.30,69.52 L420.80,69.86 L420.30,69.07 L419.80,69.08 L419.30,69.81 L418.80,69.22 L418.30,69.24 L417.80,68.94 L417.30,69.72 L416.80,69.01 L416.30,69.95 L415.80,70.09 L415.30,70.08 L414.80,69.09 L414.30,69.95 L413.80,68.85 L413.30,69.41 L412.80,69.14 L412.30,69.32 L411.80,69.08 L411.30,69.22 L410.80,68.54 L410.30,69.17 L409.80,69.97 L409.30,70.22 L408.80,69.61 L408.30,69.65 L407.80,69.63 L407.30,69.74 L406.80,70.16 L406.30,69.27 L405.80,69.66 L405.30,70.51 L404.80,71.52 L404.30,70.98 L403.80,70.39 L403.30,68.99 L402.80,69.32 L402.30,70.79 L401.80,69.98 L401.30,70.57 L400.80,71.15 L400.30,71.07 L399.80,69.92 L399.30,70.72 L398.80,70.23 L398.30,70.50 L397.80,70.25 L397.30,68.82 L396.80,69.84 L396.30,69.00 L395.80,69.39 L395.30,69.42 L394.80,69.67 L394.30,70.07 L393.80,69.11 L393.30,69.48 L392.80,69.39 L392.30,69.19 L391.80,69.95 L391.30,68.90 L390.80,69.41 L390.30,69.46 L389.80,69.14 L389.30,69.34 L388.80,69.03 L388.30,69.56 L387.80,69.05 L387.30,68.86 L386.80,69.86 L386.30,68.98 L385.80,68.39 L385.30,68.29 L384.80,68.56 L384.30,68.66 L383.80,69.64 L383.30,70.11 L382.80,68.77 L382.30,69.26 L381.80,69.89 L381.30,69.10 L380.80,68.77 L380.30,68.62 L379.80,69.22 L379.30,68.98 L378.80,69.31 L378.30,68.88 L377.80,69.56 L377.30,68.75 L376.80,69.01 L376.30,69.24 L375.80,68.50 L375.30,69.34 L374.80,68.64 L374.30,69.20 L373.80,68.93 L373.30,69.58 L372.80,68.79 L372.30,68.48 L371.80,68.83 L371.30,68.83 L370.80,68.34 L370.30,68.66 L369.80,68.46 L369.30,68.59 L368.80,68.60 L368.30,69.16 L367.80,68.57 L367.30,69.01 L366.80,68.95 L366.30,69.58 L365.80,69.76 L365.30,69.44 L364.80,69.16 L364.30,69.13 L363.80,68.48 L363.30,68.29 L362.80,68.89 L362.30,69.00 L361.80,69.13 L361.30,69.08 L360.80,68.71 L360.30,69.36 L359.80,70.04 L359.30,69.76 L358.80,68.66 L358.30,68.33 L357.80,68.26 L357.30,68.48 L356.80,68.07 L356.30,69.10 L355.80,69.23 L355.30,68.72 L354.80,69.19 L354.30,68.81 L353.80,69.08 L353.30,68.81 L352.80,68.76 L352.30,68.93 L351.80,68.84 L351.30,69.12 L350.80,68.39 L350.30,68.39 L349.80,68.65 L349.30,68.99 L348.80,68.95 L348.30,68.86 L347.80,68.89 L347.30,68.81 L346.80,68.26 L346.30,69.11 L345.80,68.75 L345.30,68.62 L344.80,69.39 L344.30,68.92 L343.80,68.36 L343.30,68.55 L342.80,68.30 L342.30,69.38 L341.80,69.22 L341.30,68.46 L340.80,69.09 L340.30,68.77 L339.80,68.42 L339.30,68.25 L338.80,68.78 L338.30,68.65 L337.80,68.75 L337.30,69.17 L336.80,68.62 L336.30,68.54 L335.80,68.29 L335.30,68.41 L334.80,68.63 L334.30,69.48 L333.80,68.77 L333.30,69.30 L332.80,68.70 L332.30,68.68 L331.80,68.23 L331.30,68.50 L330.80,68.62 L330.30,68.34 L329.80,68.78 L329.30,68.66 L328.80,68.79 L328.30,69.60 L327.80,68.78 L327.30,68.64 L326.80,68.52 L326.30,68.54 L325.80,68.53 L325.30,68.59 L324.80,68.46 L324.30,69.03 L323.80,68.80 L323.30,69.44 L322.80,69.06 L322.30,69.08 L321.80,68.27 L321.30,68.68 L320.80,69.12 L320.30,69.12 L319.80,69.10 L319.30,69.00 L318.80,68.81 L318.30,68.45 L317.80,68.51 L317.30,68.44 L316.80,68.70 L316.30,69.02 L315.80,69.13 L315.30,69.16 L314.80,68.32 L314.30,69.40 L313.80,68.62 L313.30,69.11 L312.80,69.22 L312.30,69.35 L311.80,69.12 L311.30,68.36 L310.80,68.63 L310.30,69.13 L309.80,68.91 L309.30,69.09 L308.80,68.31 L308.30,68.21 L307.80,68.43 L307.30,68.52 L306.80,68.31 L306.30,68.65 L305.80,68.66 L305.30,69.24 L304.80,69.34 L304.30,68.43 L303.80,68.26 L303.30,68.95 L302.80,69.50 L302.30,69.48 L301.80,69.18 L301.30,68.53 L300.80,69.30 L300.30,68.54 L299.80,68.84 L299.30,68.98 L298.80,69.55 L298.30,69.37 L297.80,69.27 L297.30,69.09 L296.80,69.27 L296.30,69.57 L295.80,69.50 L295.30,70.28 L294.80,69.80 L294.30,68.85 L293.80,69.33 L293.30,68.87 L292.80,68.85 L292.30,69.06 L291.80,69.77 L291.30,69.94 L290.80,68.90 L290.30,69.70 L289.80,68.56 L289.30,69.62 L288.80,70.08 L288.30,69.24 L287.80,70.25 L287.30,69.51 L286.80,69.20 L286.30,69.31 L285.80,68.86 L285.30,69.57 L284.80,69.88 L284.30,69.84 L283.80,68.78 L283.30,69.50 L282.80,70.22 L282.30,71.42 L281.80,72.64 L281.30,70.90 L280.80,71.04 L280.30,73.23 L279.80,71.26 L279.30,71.11 L278.80,70.70 L278.30,72.54 L277.80,70.64 L277.30,71.88 L276.80,70.75 L276.30,71.39 L275.80,70.46 L275.30,71.72 L274.80,71.82 L274.30,72.39 L273.80,72.73 L273.30,73.14 L272.80,72.86 L272.30,72.12 L271.80,70.62 L271.30,71.45 L270.80,70.59 L270.30,71.78 L269.80,71.99 L269.30,72.00 L268.80,70.60 L268.30,70.57 L267.80,70.39 L267.30,70.63 L266.80,70.40 L266.30,70.97 L265.80,70.53 L265.30,71.59 L264.80,71.28 L264.30,70.43 L263.80,72.08 L263.30,73.23 L262.80,72.43 L262.30,70.76 L261.80,71.85 L261.30,71.09 L260.80,71.03 L260.30,71.04 L259.80,71.04 L259.30,72.32 L258.80,70.73 L258.30,70.43 L257.80,70.55 L257.30,71.69 L256.80,72.58 L256.30,70.76 L255.80,72.93 L255.30,72.13Z" fill="#2648a0" stroke="#2648a0" stroke-width="0.4"/>
<path d="M260.30,66.50 L260.30,58.52 M265.30,66.50 L265.30,60.29 M268.30,66.50 L268.30,73.80 M272.80,66.50 L272.80,59.37 M273.80,66.50 L273.80,56.16 M274.30,66.50 L274.30,56.45 M278.80,66.50 L278.80,76.48 M286.80,66.50 L286.80,70.89 M288.30,66.50 L288.30,71.47 M296.80,66.50 L296.80,71.23 M310.80,66.50 L310.80,70.28 M319.30,66.50 L319.30,70.00 M321.80,66.50 L321.80,69.52 M322.30,66.50 L322.30,70.34 M323.30,66.50 L323.30,63.34 M324.80,66.50 L324.80,69.92 M326.80,66.50 L326.80,69.88 M332.80,66.50 L332.80,63.08 M338.80,66.50 L338.80,62.65 M349.30,66.50 L349.30,62.95 M352.80,66.50 L352.80,70.05 M356.80,66.50 L356.80,63.77 M365.30,66.50 L365.30,70.26 M367.30,66.50 L367.30,70.19 M367.80,66.50 L367.80,70.29 M369.30,66.50 L369.30,62.34 M372.30,66.50 L372.30,62.66 M379.80,66.50 L379.80,70.65 M385.80,66.50 L385.80,63.43 M386.80,66.50 L386.80,70.20 M387.30,66.50 L387.30,61.47 M388.80,66.50 L388.80,71.24 M392.80,66.50 L392.80,70.48 M424.30,66.50 L424.30,71.62 M435.80,66.50 L435.80,72.69 M447.30,66.50 L447.30,61.46 M447.80,66.50 L447.80,60.99 M450.80,66.50 L450.80,61.55 M454.30,66.50 L454.30,61.63 M458.80,66.50 L458.80,74.68 M466.80,66.50 L466.80,71.84 M469.30,66.50 L469.30,72.72" fill="none" stroke="#2648a0" stroke-width="0.7" opacity="0.7"/>
<path d="M255.30,90.83 L255.80,89.20 L256.30,88.75 L256.80,89.62 L257.30,89.91 L257.80,88.54 L258.30,89.67 L258.80,88.96 L259.30,90.82 L259.80,89.95 L260.30,89.75 L260.80,90.66 L261.30,89.95 L261.80,90.42 L262.30,90.43 L262.80,89.32 L263.30,89.78 L263.80,90.40 L264.30,89.47 L264.80,88.84 L265.30,89.44 L265.80,88.31 L266.30,90.31 L266.80,89.41 L267.30,89.49 L267.80,90.57 L268.30,91.01 L268.80,89.51 L269.30,90.54 L269.80,90.12 L270.30,90.17 L270.80,88.89 L271.30,90.37 L271.80,90.32 L272.30,88.72 L272.80,90.25 L273.30,90.16 L273.80,89.68 L274.30,89.08 L274.80,90.42 L275.30,89.75 L275.80,89.64 L276.30,89.86 L276.80,89.52 L277.30,90.57 L277.80,90.65 L278.30,90.32 L278.80,89.52 L279.30,89.18 L279.80,88.94 L280.30,90.01 L280.80,88.82 L281.30,88.91 L281.80,89.63 L282.30,89.27 L282.80,90.56 L283.30,90.60 L283.80,90.38 L284.30,89.81 L284.80,90.66 L285.30,90.78 L285.80,90.02 L286.30,90.04 L286.80,88.85 L287.30,88.88 L287.80,88.73 L288.30,89.30 L288.80,89.18 L289.30,90.26 L289.80,88.91 L290.30,89.52 L290.80,89.49 L291.30,89.68 L291.80,90.31 L292.30,90.26 L292.80,88.88 L293.30,89.13 L293.80,90.79 L294.30,89.97 L294.80,89.81 L295.30,90.31 L295.80,90.31 L296.30,90.32 L296.80,89.46 L297.30,89.38 L297.80,90.03 L298.30,89.60 L298.80,89.39 L299.30,90.03 L299.80,90.26 L300.30,90.27 L300.80,90.49 L301.30,90.02 L301.80,88.90 L302.30,90.11 L302.80,90.47 L303.30,89.53 L303.80,89.91 L304.30,89.54 L304.80,89.60 L305.30,89.60 L305.80,89.77 L306.30,90.60 L306.80,88.55 L307.30,89.02 L307.80,90.33 L308.30,90.77 L308.80,91.01 L309.30,90.23 L309.80,89.92 L310.30,90.46 L310.80,89.99 L311.30,89.21 L311.80,89.69 L312.30,89.83 L312.80,89.89 L313.30,90.03 L313.80,88.79 L314.30,89.82 L314.80,90.14 L315.30,90.35 L315.80,90.50 L316.30,89.46 L316.80,91.03 L317.30,90.54 L317.80,89.75 L318.30,89.77 L318.80,89.65 L319.30,90.13 L319.80,90.03 L320.30,89.93 L320.80,89.81 L321.30,90.96 L321.80,91.31 L322.30,90.86 L322.80,90.82 L323.30,90.71 L323.80,91.74 L324.30,91.01 L324.80,91.04 L325.30,90.93 L325.80,91.31 L326.30,91.97 L326.80,91.98 L327.30,90.91 L327.80,91.60 L328.30,91.25 L328.80,91.45 L329.30,90.47 L329.80,91.07 L330.30,90.67 L330.80,91.72 L331.30,91.25 L331.80,91.34 L332.30,91.19 L332.80,91.78 L333.30,91.53 L333.80,90.89 L334.30,91.25 L334.80,90.48 L335.30,91.75 L335.80,91.47 L336.30,90.92 L336.80,91.68 L337.30,91.95 L337.80,91.82 L338.30,91.52 L338.80,91.15 L339.30,91.50 L339.80,91.32 L340.30,90.74 L340.80,91.40 L341.30,91.71 L341.80,91.62 L342.30,91.64 L342.80,91.11 L343.30,90.82 L343.80,91.25 L344.30,91.84 L344.80,91.43 L345.30,90.99 L345.80,91.38 L346.30,91.61 L346.80,91.57 L347.30,90.90 L347.80,91.60 L348.30,91.81 L348.80,90.85 L349.30,91.87 L349.80,91.34 L350.30,91.55 L350.80,91.07 L351.30,91.07 L351.80,90.90 L352.30,91.05 L352.80,91.21 L353.30,91.06 L353.80,90.78 L354.30,90.57 L354.80,90.79 L355.30,91.20 L355.80,90.99 L356.30,90.65 L356.80,90.91 L357.30,91.14 L357.80,91.43 L358.30,91.20 L358.80,91.10 L359.30,90.80 L359.80,91.39 L360.30,90.85 L360.80,91.02 L361.30,90.90 L361.80,90.76 L362.30,90.98 L362.80,90.51 L363.30,90.61 L363.80,90.76 L364.30,90.83 L364.80,91.20 L365.30,91.19 L365.80,90.01 L366.30,90.62 L366.80,90.88 L367.30,89.96 L367.80,90.91 L368.30,90.79 L368.80,90.02 L369.30,90.53 L369.80,90.94 L370.30,90.76 L370.80,90.22 L371.30,90.27 L371.80,90.78 L372.30,90.83 L372.80,90.95 L373.30,91.39 L373.80,89.88 L374.30,89.21 L374.80,90.52 L375.30,90.81 L375.80,90.37 L376.30,91.08 L376.80,90.08 L377.30,89.94 L377.80,90.71 L378.30,90.33 L378.80,89.92 L379.30,90.91 L379.80,90.42 L380.30,91.07 L380.80,89.61 L381.30,89.82 L381.80,90.33 L382.30,90.48 L382.80,89.37 L383.30,90.06 L383.80,90.54 L384.30,89.97 L384.80,90.33 L385.30,90.27 L385.80,91.13 L386.30,90.69 L386.80,91.06 L387.30,90.87 L387.80,90.76 L388.30,90.20 L388.80,90.19 L389.30,89.08 L389.80,89.25 L390.30,89.75 L390.80,90.76 L391.30,90.60 L391.80,89.96 L392.30,90.34 L392.80,90.59 L393.30,90.28 L393.80,89.42 L394.30,89.29 L394.80,90.27 L395.30,89.62 L395.80,89.88 L396.30,91.04 L396.80,90.35 L397.30,89.86 L397.80,90.82 L398.30,89.87 L398.80,90.32 L399.30,89.46 L399.80,90.14 L400.30,89.69 L400.80,90.67 L401.30,89.78 L401.80,90.77 L402.30,90.15 L402.80,90.02 L403.30,89.51 L403.80,90.21 L404.30,90.08 L404.80,89.81 L405.30,89.33 L405.80,90.12 L406.30,89.52 L406.80,89.68 L407.30,90.73 L407.80,89.97 L408.30,90.11 L408.80,91.11 L409.30,90.01 L409.80,89.08 L410.30,90.22 L410.80,90.06 L411.30,90.48 L411.80,90.45 L412.30,89.75 L412.80,90.07 L413.30,91.29 L413.80,90.45 L414.30,89.95 L414.80,90.66 L415.30,89.56 L415.80,90.21 L416.30,89.02 L416.80,89.61 L417.30,89.83 L417.80,90.87 L418.30,90.50 L418.80,90.80 L419.30,90.23 L419.80,90.91 L420.30,90.11 L420.80,89.26 L421.30,90.34 L421.80,89.67 L422.30,90.44 L422.80,90.40 L423.30,90.96 L423.80,89.39 L424.30,89.39 L424.80,89.45 L425.30,89.18 L425.80,90.69 L426.30,89.68 L426.80,90.66 L427.30,90.86 L427.80,90.70 L428.30,90.50 L428.80,90.39 L429.30,90.29 L429.80,90.34 L430.30,90.43 L430.80,90.37 L431.30,88.97 L431.80,90.55 L432.30,89.45 L432.80,89.66 L433.30,89.54 L433.80,90.35 L434.30,89.56 L434.80,89.82 L435.30,90.23 L435.80,91.21 L436.30,89.76 L436.80,90.06 L437.30,89.67 L437.80,90.15 L438.30,89.42 L438.80,88.76 L439.30,90.43 L439.80,90.54 L440.30,90.74 L440.80,89.80 L441.30,90.14 L441.80,89.54 L442.30,90.22 L442.80,90.35 L443.30,90.15 L443.80,89.29 L444.30,90.92 L444.80,90.85 L445.30,90.40 L445.80,89.50 L446.30,90.10 L446.80,90.09 L447.30,89.46 L447.80,90.39 L448.30,88.73 L448.80,90.60 L449.30,90.89 L449.80,89.67 L450.30,89.59 L450.80,90.65 L451.30,90.85 L451.80,90.07 L452.30,90.76 L452.80,90.00 L453.30,89.40 L453.80,90.25 L454.30,89.16 L454.80,90.30 L455.30,91.16 L455.80,90.70 L456.30,90.35 L456.80,88.91 L457.30,90.52 L457.80,89.73 L458.30,89.37 L458.80,89.59 L459.30,89.40 L459.80,89.86 L460.30,90.37 L460.80,89.79 L461.30,90.05 L461.80,90.64 L462.30,89.88 L462.80,90.49 L463.30,89.81 L463.80,89.45 L464.30,89.61 L464.80,89.37 L465.30,90.44 L465.80,88.81 L466.30,90.26 L466.80,89.80 L467.30,91.14 L467.80,90.28 L468.30,90.13 L468.80,90.22 L469.30,90.65 L469.80,90.09 L469.80,96.65 L469.30,96.97 L468.80,96.71 L468.30,97.21 L467.80,96.76 L467.30,96.71 L466.80,97.15 L466.30,96.87 L465.80,97.20 L465.30,97.61 L464.80,98.14 L464.30,97.19 L463.80,96.95 L463.30,97.58 L462.80,96.78 L462.30,97.20 L461.80,97.80 L461.30,96.81 L460.80,97.01 L460.30,97.25 L459.80,96.95 L459.30,96.76 L458.80,97.24 L458.30,96.41 L457.80,97.50 L457.30,98.09 L456.80,98.38 L456.30,96.98 L455.80,97.27 L455.30,97.17 L454.80,96.65 L454.30,97.22 L453.80,97.01 L453.30,97.82 L452.80,97.41 L452.30,97.85 L451.80,97.59 L451.30,96.51 L450.80,96.59 L450.30,97.68 L449.80,96.83 L449.30,96.90 L448.80,97.82 L448.30,97.82 L447.80,97.10 L447.30,96.72 L446.80,97.27 L446.30,96.33 L445.80,98.06 L445.30,97.96 L444.80,97.36 L444.30,97.40 L443.80,96.48 L443.30,96.74 L442.80,98.31 L442.30,97.92 L441.80,96.75 L441.30,97.03 L440.80,96.47 L440.30,96.74 L439.80,97.67 L439.30,98.27 L438.80,97.18 L438.30,97.78 L437.80,96.90 L437.30,98.09 L436.80,98.30 L436.30,97.09 L435.80,97.39 L435.30,96.08 L434.80,96.80 L434.30,96.77 L433.80,97.66 L433.30,97.73 L432.80,98.02 L432.30,97.04 L431.80,97.60 L431.30,98.36 L430.80,97.92 L430.30,98.31 L429.80,97.03 L429.30,96.80 L428.80,96.86 L428.30,96.22 L427.80,97.32 L427.30,97.85 L426.80,97.26 L426.30,96.93 L425.80,97.06 L425.30,98.47 L424.80,97.32 L424.30,96.55 L423.80,97.04 L423.30,97.02 L422.80,97.45 L422.30,97.67 L421.80,98.24 L421.30,97.71 L420.80,97.19 L420.30,96.45 L419.80,97.31 L419.30,97.58 L418.80,96.27 L418.30,97.21 L417.80,96.32 L417.30,97.90 L416.80,98.77 L416.30,97.79 L415.80,97.43 L415.30,98.00 L414.80,97.73 L414.30,97.69 L413.80,96.57 L413.30,96.19 L412.80,97.21 L412.30,97.49 L411.80,97.56 L411.30,97.99 L410.80,97.37 L410.30,97.04 L409.80,97.26 L409.30,96.60 L408.80,96.45 L408.30,97.62 L407.80,97.45 L407.30,98.30 L406.80,96.72 L406.30,97.43 L405.80,96.85 L405.30,97.01 L404.80,96.94 L404.30,96.66 L403.80,96.84 L403.30,97.18 L402.80,96.99 L402.30,97.64 L401.80,97.57 L401.30,96.78 L400.80,98.50 L400.30,96.89 L399.80,96.72 L399.30,97.60 L398.80,96.89 L398.30,96.72 L397.80,96.98 L397.30,97.16 L396.80,97.44 L396.30,97.26 L395.80,97.86 L395.30,96.61 L394.80,97.86 L394.30,96.87 L393.80,97.45 L393.30,97.89 L392.80,96.95 L392.30,96.46 L391.80,96.33 L391.30,97.10 L390.80,96.32 L390.30,96.61 L389.80,96.95 L389.30,97.74 L388.80,96.64 L388.30,97.32 L387.80,97.19 L387.30,96.89 L386.80,96.12 L386.30,96.11 L385.80,96.37 L385.30,97.18 L384.80,97.42 L384.30,96.78 L383.80,97.17 L383.30,97.42 L382.80,97.24 L382.30,96.47 L381.80,96.04 L381.30,97.56 L380.80,97.69 L380.30,96.70 L379.80,96.66 L379.30,96.70 L378.80,97.75 L378.30,96.93 L377.80,97.28 L377.30,97.36 L376.80,96.21 L376.30,96.95 L375.80,97.88 L375.30,97.62 L374.80,97.14 L374.30,97.41 L373.80,97.34 L373.30,96.74 L372.80,97.09 L372.30,96.64 L371.80,96.41 L371.30,97.19 L370.80,97.30 L370.30,96.47 L369.80,97.70 L369.30,96.86 L368.80,97.88 L368.30,97.17 L367.80,97.10 L367.30,97.86 L366.80,96.37 L366.30,97.01 L365.80,96.99 L365.30,96.54 L364.80,96.29 L364.30,96.65 L363.80,96.55 L363.30,97.09 L362.80,96.56 L362.30,97.25 L361.80,97.34 L361.30,96.50 L360.80,97.24 L360.30,96.26 L359.80,95.77 L359.30,96.23 L358.80,95.72 L358.30,95.45 L357.80,96.41 L357.30,96.07 L356.80,96.55 L356.30,96.13 L355.80,95.80 L355.30,95.88 L354.80,96.42 L354.30,96.48 L353.80,96.28 L353.30,96.22 L352.80,96.60 L352.30,96.85 L351.80,96.07 L351.30,96.43 L350.80,95.67 L350.30,96.06 L349.80,95.65 L349.30,95.74 L348.80,95.90 L348.30,96.37 L347.80,95.97 L347.30,96.63 L346.80,95.96 L346.30,95.68 L345.80,95.75 L345.30,96.16 L344.80,96.36 L344.30,95.66 L343.80,95.86 L343.30,96.12 L342.80,96.32 L342.30,96.50 L341.80,95.65 L341.30,96.36 L340.80,95.64 L340.30,96.15 L339.80,96.77 L339.30,96.14 L338.80,96.73 L338.30,96.53 L337.80,96.16 L337.30,96.11 L336.80,95.82 L336.30,95.94 L335.80,95.56 L335.30,96.11 L334.80,96.08 L334.30,96.40 L333.80,96.92 L333.30,95.98 L332.80,95.77 L332.30,95.76 L331.80,95.57 L331.30,95.61 L330.80,95.46 L330.30,96.12 L329.80,96.25 L329.30,96.52 L328.80,96.08 L328.30,96.64 L327.80,95.74 L327.30,96.25 L326.80,95.49 L326.30,96.01 L325.80,95.91 L325.30,96.33 L324.80,96.43 L324.30,96.49 L323.80,96.02 L323.30,96.10 L322.80,95.82 L322.30,96.22 L321.80,96.08 L321.30,96.76 L320.80,96.87 L320.30,97.68 L319.80,96.68 L319.30,98.48 L318.80,98.29 L318.30,98.27 L317.80,96.92 L317.30,96.87 L316.80,96.80 L316.30,97.49 L315.80,97.28 L315.30,97.31 L314.80,98.02 L314.30,98.35 L313.80,98.73 L313.30,97.54 L312.80,98.76 L312.30,97.29 L311.80,98.20 L311.30,97.15 L310.80,96.37 L310.30,97.22 L309.80,96.82 L309.30,96.39 L308.80,97.45 L308.30,97.10 L307.80,97.67 L307.30,98.53 L306.80,97.42 L306.30,98.17 L305.80,97.04 L305.30,96.86 L304.80,98.26 L304.30,97.44 L303.80,98.06 L303.30,97.39 L302.80,96.86 L302.30,98.44 L301.80,97.33 L301.30,97.75 L300.80,96.87 L300.30,96.91 L299.80,96.77 L299.30,97.51 L298.80,98.59 L298.30,97.71 L297.80,97.71 L297.30,97.25 L296.80,97.45 L296.30,98.00 L295.80,97.12 L295.30,96.95 L294.80,97.13 L294.30,96.77 L293.80,97.67 L293.30,98.41 L292.80,98.85 L292.30,97.39 L291.80,97.81 L291.30,97.24 L290.80,96.79 L290.30,97.93 L289.80,98.17 L289.30,97.31 L288.80,97.93 L288.30,97.54 L287.80,97.60 L287.30,97.34 L286.80,97.16 L286.30,96.87 L285.80,97.00 L285.30,96.75 L284.80,98.09 L284.30,97.50 L283.80,96.70 L283.30,96.92 L282.80,97.10 L282.30,96.86 L281.80,97.28 L281.30,97.34 L280.80,98.76 L280.30,98.54 L279.80,96.82 L279.30,97.31 L278.80,98.69 L278.30,98.09 L277.80,97.32 L277.30,97.41 L276.80,97.23 L276.30,96.88 L275.80,97.94 L275.30,97.24 L274.80,96.99 L274.30,98.21 L273.80,96.93 L273.30,98.06 L272.80,96.80 L272.30,96.85 L271.80,98.42 L271.30,97.41 L270.80,98.52 L270.30,97.12 L269.80,97.80 L269.30,98.43 L268.80,96.59 L268.30,96.87 L267.80,96.57 L267.30,97.16 L266.80,96.98 L266.30,97.58 L265.80,97.74 L265.30,97.20 L264.80,98.93 L264.30,97.47 L263.80,98.24 L263.30,98.45 L262.80,98.27 L262.30,96.98 L261.80,96.82 L261.30,97.20 L260.80,97.10 L260.30,96.94 L259.80,97.85 L259.30,97.42 L258.80,97.05 L258.30,97.17 L257.80,98.29 L257.30,98.11 L256.80,97.23 L256.30,97.01 L255.80,97.46 L255.30,96.51Z" fill="#f5a21b" stroke="#f5a21b" stroke-width="0.4"/>
<path d="M258.80,93.70 L258.80,100.69 M259.30,93.70 L259.30,88.64 M267.80,93.70 L267.80,98.39 M272.80,93.70 L272.80,98.72 M276.30,93.70 L276.30,100.19 M278.80,93.70 L278.80,100.16 M281.80,93.70 L281.80,89.11 M290.30,93.70 L290.30,87.06 M301.30,93.70 L301.30,98.90 M313.80,93.70 L313.80,100.26 M329.80,93.70 L329.80,97.99 M347.80,93.70 L347.80,98.24 M354.30,93.70 L354.30,97.19 M357.30,93.70 L357.30,90.07 M366.80,93.70 L366.80,97.99 M368.30,93.70 L368.30,88.14 M398.30,93.70 L398.30,88.98 M418.80,93.70 L418.80,98.20 M423.30,93.70 L423.30,99.63 M437.30,93.70 L437.30,88.45 M445.80,93.70 L445.80,88.86 M448.30,93.70 L448.30,86.95" fill="none" stroke="#f5a21b" stroke-width="0.7" opacity="0.7"/>
<path d="M255.30,116.71 L255.80,116.78 L256.30,115.69 L256.80,116.01 L257.30,116.67 L257.80,116.56 L258.30,115.54 L258.80,115.86 L259.30,116.84 L259.80,116.96 L260.30,116.60 L260.80,116.51 L261.30,117.37 L261.80,117.42 L262.30,117.34 L262.80,116.37 L263.30,116.34 L263.80,115.55 L264.30,115.39 L264.80,116.42 L265.30,116.22 L265.80,115.72 L266.30,116.74 L266.80,116.10 L267.30,116.52 L267.80,116.39 L268.30,117.31 L268.80,117.64 L269.30,116.92 L269.80,116.81 L270.30,115.81 L270.80,115.91 L271.30,116.65 L271.80,115.59 L272.30,116.28 L272.80,117.39 L273.30,116.85 L273.80,116.86 L274.30,117.11 L274.80,117.16 L275.30,115.65 L275.80,116.60 L276.30,116.83 L276.80,116.86 L277.30,117.03 L277.80,116.07 L278.30,116.10 L278.80,117.08 L279.30,115.53 L279.80,115.83 L280.30,116.97 L280.80,116.43 L281.30,116.07 L281.80,116.61 L282.30,116.07 L282.80,116.84 L283.30,117.49 L283.80,116.75 L284.30,117.88 L284.80,118.23 L285.30,118.12 L285.80,117.95 L286.30,118.03 L286.80,118.42 L287.30,117.14 L287.80,117.82 L288.30,117.53 L288.80,117.75 L289.30,118.11 L289.80,118.44 L290.30,118.16 L290.80,117.76 L291.30,118.15 L291.80,117.90 L292.30,117.46 L292.80,118.05 L293.30,117.51 L293.80,118.31 L294.30,117.40 L294.80,117.79 L295.30,117.63 L295.80,118.42 L296.30,117.83 L296.80,117.30 L297.30,117.76 L297.80,117.98 L298.30,117.21 L298.80,117.97 L299.30,117.78 L299.80,117.86 L300.30,118.30 L300.80,118.07 L301.30,117.26 L301.80,117.13 L302.30,117.50 L302.80,118.14 L303.30,117.74 L303.80,117.94 L304.30,117.15 L304.80,117.05 L305.30,117.51 L305.80,117.11 L306.30,118.04 L306.80,118.02 L307.30,118.40 L307.80,117.88 L308.30,117.60 L308.80,117.15 L309.30,117.65 L309.80,117.44 L310.30,117.65 L310.80,117.18 L311.30,118.04 L311.80,118.37 L312.30,117.76 L312.80,118.52 L313.30,117.78 L313.80,118.19 L314.30,117.48 L314.80,117.11 L315.30,117.95 L315.80,117.39 L316.30,117.52 L316.80,118.33 L317.30,118.10 L317.80,118.29 L318.30,117.83 L318.80,117.73 L319.30,118.09 L319.80,118.14 L320.30,117.78 L320.80,118.44 L321.30,118.09 L321.80,116.98 L322.30,117.03 L322.80,117.50 L323.30,118.16 L323.80,118.13 L324.30,118.45 L324.80,117.88 L325.30,118.34 L325.80,118.23 L326.30,117.47 L326.80,118.10 L327.30,117.80 L327.80,117.79 L328.30,117.65 L328.80,117.44 L329.30,118.00 L329.80,118.45 L330.30,117.89 L330.80,118.61 L331.30,118.35 L331.80,118.58 L332.30,117.62 L332.80,118.41 L333.30,117.61 L333.80,118.24 L334.30,117.28 L334.80,117.62 L335.30,117.79 L335.80,117.86 L336.30,117.89 L336.80,118.11 L337.30,118.36 L337.80,118.06 L338.30,117.81 L338.80,118.05 L339.30,117.41 L339.80,117.66 L340.30,117.72 L340.80,118.11 L341.30,118.03 L341.80,118.31 L342.30,117.50 L342.80,118.09 L343.30,117.27 L343.80,117.83 L344.30,118.45 L344.80,118.73 L345.30,118.25 L345.80,118.12 L346.30,117.28 L346.80,117.95 L347.30,117.91 L347.80,117.59 L348.30,117.78 L348.80,117.90 L349.30,118.74 L349.80,118.41 L350.30,118.60 L350.80,117.80 L351.30,117.75 L351.80,117.34 L352.30,117.68 L352.80,117.63 L353.30,118.56 L353.80,117.92 L354.30,117.96 L354.80,117.88 L355.30,117.94 L355.80,118.03 L356.30,117.61 L356.80,117.81 L357.30,118.24 L357.80,118.02 L358.30,118.38 L358.80,117.70 L359.30,118.08 L359.80,117.15 L360.30,118.02 L360.80,117.71 L361.30,118.38 L361.80,118.13 L362.30,118.08 L362.80,118.65 L363.30,118.52 L363.80,118.27 L364.30,117.59 L364.80,117.95 L365.30,117.60 L365.80,118.16 L366.30,118.48 L366.80,117.94 L367.30,117.95 L367.80,118.24 L368.30,117.31 L368.80,117.20 L369.30,117.82 L369.80,117.90 L370.30,117.71 L370.80,117.00 L371.30,118.14 L371.80,117.19 L372.30,116.92 L372.80,117.86 L373.30,117.80 L373.80,117.61 L374.30,117.17 L374.80,116.78 L375.30,117.05 L375.80,117.43 L376.30,117.37 L376.80,117.34 L377.30,117.33 L377.80,117.04 L378.30,116.72 L378.80,117.40 L379.30,117.76 L379.80,117.87 L380.30,117.46 L380.80,117.36 L381.30,116.94 L381.80,117.49 L382.30,117.46 L382.80,117.39 L383.30,117.39 L383.80,116.97 L384.30,117.66 L384.80,116.74 L385.30,117.29 L385.80,117.26 L386.30,116.71 L386.80,116.74 L387.30,117.78 L387.80,117.64 L388.30,117.08 L388.80,117.09 L389.30,117.72 L389.80,117.95 L390.30,117.34 L390.80,116.63 L391.30,117.71 L391.80,116.41 L392.30,116.75 L392.80,117.30 L393.30,117.02 L393.80,117.83 L394.30,118.00 L394.80,117.53 L395.30,117.58 L395.80,118.13 L396.30,117.25 L396.80,117.02 L397.30,116.87 L397.80,116.92 L398.30,116.18 L398.80,117.40 L399.30,117.89 L399.80,118.30 L400.30,117.78 L400.80,117.40 L401.30,117.67 L401.80,116.15 L402.30,116.76 L402.80,116.38 L403.30,117.23 L403.80,117.16 L404.30,117.29 L404.80,117.87 L405.30,117.96 L405.80,116.87 L406.30,116.74 L406.80,116.95 L407.30,118.01 L407.80,117.63 L408.30,116.88 L408.80,117.50 L409.30,117.09 L409.80,116.71 L410.30,116.34 L410.80,116.43 L411.30,117.70 L411.80,117.99 L412.30,117.67 L412.80,118.22 L413.30,118.21 L413.80,117.78 L414.30,116.69 L414.80,116.59 L415.30,116.39 L415.80,117.21 L416.30,117.57 L416.80,117.41 L417.30,118.30 L417.80,117.65 L418.30,116.65 L418.80,117.36 L419.30,117.76 L419.80,117.18 L420.30,117.38 L420.80,117.92 L421.30,116.93 L421.80,116.80 L422.30,117.43 L422.80,117.44 L423.30,116.52 L423.80,117.03 L424.30,117.18 L424.80,116.87 L425.30,117.75 L425.80,117.64 L426.30,117.13 L426.80,117.79 L427.30,116.62 L427.80,117.22 L428.30,116.38 L428.80,117.48 L429.30,116.61 L429.80,117.82 L430.30,117.37 L430.80,117.01 L431.30,117.97 L431.80,117.76 L432.30,116.97 L432.80,116.94 L433.30,116.69 L433.80,116.97 L434.30,117.75 L434.80,117.68 L435.30,117.66 L435.80,116.58 L436.30,117.37 L436.80,117.80 L437.30,117.72 L437.80,117.62 L438.30,117.36 L438.80,117.42 L439.30,117.88 L439.80,117.28 L440.30,116.61 L440.80,116.92 L441.30,116.94 L441.80,116.90 L442.30,116.77 L442.80,117.93 L443.30,117.54 L443.80,117.62 L444.30,116.79 L444.80,118.04 L445.30,117.77 L445.80,117.37 L446.30,117.80 L446.80,117.72 L447.30,117.51 L447.80,117.49 L448.30,116.77 L448.80,117.48 L449.30,116.90 L449.80,117.68 L450.30,116.76 L450.80,116.94 L451.30,117.65 L451.80,117.03 L452.30,117.35 L452.80,117.93 L453.30,117.60 L453.80,117.23 L454.30,117.68 L454.80,117.85 L455.30,116.74 L455.80,116.54 L456.30,116.49 L456.80,117.54 L457.30,117.64 L457.80,117.51 L458.30,117.73 L458.80,117.54 L459.30,118.09 L459.80,117.24 L460.30,117.32 L460.80,116.35 L461.30,116.87 L461.80,116.84 L462.30,117.10 L462.80,117.24 L463.30,117.08 L463.80,117.46 L464.30,117.10 L464.80,117.03 L465.30,117.08 L465.80,117.32 L466.30,117.29 L466.80,116.96 L467.30,116.37 L467.80,117.51 L468.30,116.80 L468.80,116.83 L469.30,117.30 L469.80,116.89 L469.80,122.63 L469.30,123.84 L468.80,123.71 L468.30,123.27 L467.80,123.03 L467.30,123.90 L466.80,122.94 L466.30,124.10 L465.80,123.90 L465.30,123.23 L464.80,123.03 L464.30,123.52 L463.80,122.64 L463.30,123.27 L462.80,122.50 L462.30,122.99 L461.80,122.97 L461.30,124.52 L460.80,124.34 L460.30,123.43 L459.80,123.02 L459.30,122.47 L458.80,122.84 L458.30,122.89 L457.80,122.74 L457.30,124.12 L456.80,122.99 L456.30,123.03 L455.80,123.31 L455.30,123.70 L454.80,122.85 L454.30,123.39 L453.80,123.77 L453.30,123.48 L452.80,123.66 L452.30,123.41 L451.80,123.00 L451.30,123.52 L450.80,123.51 L450.30,123.02 L449.80,123.66 L449.30,122.71 L448.80,122.94 L448.30,123.33 L447.80,123.32 L447.30,123.87 L446.80,123.68 L446.30,122.84 L445.80,123.32 L445.30,123.20 L444.80,122.64 L444.30,123.65 L443.80,122.87 L443.30,122.77 L442.80,123.42 L442.30,123.42 L441.80,123.39 L441.30,123.00 L440.80,124.06 L440.30,123.71 L439.80,124.22 L439.30,123.69 L438.80,122.82 L438.30,122.94 L437.80,123.00 L437.30,122.56 L436.80,122.94 L436.30,123.67 L435.80,123.04 L435.30,123.23 L434.80,123.20 L434.30,123.94 L433.80,123.68 L433.30,122.74 L432.80,123.43 L432.30,122.76 L431.80,123.01 L431.30,123.29 L430.80,122.62 L430.30,123.52 L429.80,122.96 L429.30,123.76 L428.80,123.06 L428.30,122.93 L427.80,123.95 L427.30,123.62 L426.80,122.71 L426.30,122.77 L425.80,122.51 L425.30,123.41 L424.80,123.85 L424.30,123.01 L423.80,123.33 L423.30,123.76 L422.80,124.08 L422.30,123.64 L421.80,122.93 L421.30,122.97 L420.80,123.48 L420.30,123.90 L419.80,123.48 L419.30,124.28 L418.80,123.07 L418.30,123.76 L417.80,123.46 L417.30,122.84 L416.80,123.18 L416.30,122.64 L415.80,123.42 L415.30,124.04 L414.80,122.96 L414.30,124.05 L413.80,123.15 L413.30,123.17 L412.80,122.60 L412.30,123.27 L411.80,122.86 L411.30,123.90 L410.80,123.54 L410.30,124.10 L409.80,123.62 L409.30,122.80 L408.80,123.25 L408.30,123.07 L407.80,123.07 L407.30,123.18 L406.80,122.83 L406.30,122.97 L405.80,123.86 L405.30,123.51 L404.80,123.54 L404.30,123.58 L403.80,122.95 L403.30,122.85 L402.80,124.23 L402.30,123.28 L401.80,123.49 L401.30,122.88 L400.80,123.10 L400.30,123.06 L399.80,122.45 L399.30,123.18 L398.80,123.01 L398.30,124.24 L397.80,124.18 L397.30,124.47 L396.80,124.15 L396.30,123.58 L395.80,122.47 L395.30,123.14 L394.80,123.00 L394.30,122.66 L393.80,122.47 L393.30,123.59 L392.80,123.67 L392.30,124.26 L391.80,122.82 L391.30,123.08 L390.80,123.64 L390.30,123.80 L389.80,123.13 L389.30,123.10 L388.80,122.84 L388.30,123.18 L387.80,123.58 L387.30,123.04 L386.80,123.53 L386.30,123.65 L385.80,124.13 L385.30,123.27 L384.80,123.17 L384.30,124.05 L383.80,123.07 L383.30,122.36 L382.80,123.35 L382.30,123.47 L381.80,123.05 L381.30,123.53 L380.80,123.02 L380.30,123.43 L379.80,122.99 L379.30,123.72 L378.80,123.41 L378.30,123.38 L377.80,123.60 L377.30,123.73 L376.80,122.78 L376.30,123.02 L375.80,123.44 L375.30,123.13 L374.80,123.86 L374.30,122.83 L373.80,123.90 L373.30,124.05 L372.80,122.56 L372.30,123.44 L371.80,122.43 L371.30,122.54 L370.80,123.34 L370.30,123.12 L369.80,122.95 L369.30,123.86 L368.80,123.46 L368.30,123.35 L367.80,122.86 L367.30,122.23 L366.80,122.71 L366.30,122.20 L365.80,122.15 L365.30,123.15 L364.80,122.92 L364.30,123.43 L363.80,123.15 L363.30,122.92 L362.80,122.53 L362.30,122.12 L361.80,122.43 L361.30,122.76 L360.80,123.21 L360.30,122.75 L359.80,123.29 L359.30,122.50 L358.80,122.49 L358.30,122.72 L357.80,122.31 L357.30,122.10 L356.80,122.72 L356.30,122.75 L355.80,123.03 L355.30,122.03 L354.80,121.95 L354.30,122.72 L353.80,122.71 L353.30,122.84 L352.80,122.21 L352.30,122.33 L351.80,122.95 L351.30,122.68 L350.80,122.36 L350.30,122.31 L349.80,122.43 L349.30,122.11 L348.80,122.07 L348.30,122.26 L347.80,122.45 L347.30,123.56 L346.80,123.06 L346.30,123.35 L345.80,122.50 L345.30,121.83 L344.80,121.99 L344.30,121.84 L343.80,122.10 L343.30,123.13 L342.80,122.36 L342.30,122.47 L341.80,122.08 L341.30,122.57 L340.80,122.71 L340.30,122.72 L339.80,122.66 L339.30,122.39 L338.80,123.22 L338.30,122.60 L337.80,122.91 L337.30,121.97 L336.80,122.71 L336.30,122.38 L335.80,122.28 L335.30,122.39 L334.80,122.56 L334.30,122.93 L333.80,122.59 L333.30,122.68 L332.80,122.73 L332.30,122.27 L331.80,122.34 L331.30,122.65 L330.80,122.30 L330.30,122.90 L329.80,122.41 L329.30,122.32 L328.80,122.82 L328.30,122.60 L327.80,122.46 L327.30,123.14 L326.80,123.21 L326.30,122.64 L325.80,122.53 L325.30,122.91 L324.80,122.38 L324.30,122.65 L323.80,122.33 L323.30,122.10 L322.80,122.23 L322.30,123.12 L321.80,122.58 L321.30,123.39 L320.80,123.21 L320.30,122.84 L319.80,122.77 L319.30,122.72 L318.80,122.08 L318.30,122.75 L317.80,122.34 L317.30,122.60 L316.80,122.96 L316.30,123.10 L315.80,123.14 L315.30,123.05 L314.80,122.78 L314.30,122.91 L313.80,122.42 L313.30,122.88 L312.80,122.10 L312.30,122.33 L311.80,122.66 L311.30,122.70 L310.80,122.46 L310.30,122.40 L309.80,122.55 L309.30,122.81 L308.80,123.36 L308.30,122.96 L307.80,122.23 L307.30,121.91 L306.80,122.84 L306.30,123.00 L305.80,123.21 L305.30,122.80 L304.80,122.75 L304.30,123.23 L303.80,123.11 L303.30,122.28 L302.80,122.87 L302.30,123.07 L301.80,123.43 L301.30,122.56 L300.80,123.53 L300.30,123.02 L299.80,122.98 L299.30,122.69 L298.80,122.94 L298.30,123.15 L297.80,122.76 L297.30,122.58 L296.80,123.23 L296.30,122.38 L295.80,123.24 L295.30,122.59 L294.80,122.94 L294.30,122.15 L293.80,122.50 L293.30,123.32 L292.80,123.20 L292.30,122.84 L291.80,122.40 L291.30,123.05 L290.80,122.61 L290.30,122.82 L289.80,122.27 L289.30,122.73 L288.80,123.29 L288.30,123.46 L287.80,122.97 L287.30,122.78 L286.80,122.09 L286.30,122.21 L285.80,121.92 L285.30,122.78 L284.80,122.38 L284.30,122.79 L283.80,123.44 L283.30,124.28 L282.80,123.51 L282.30,124.06 L281.80,124.60 L281.30,124.45 L280.80,124.47 L280.30,123.77 L279.80,124.97 L279.30,124.30 L278.80,124.99 L278.30,123.48 L277.80,123.62 L277.30,123.81 L276.80,125.12 L276.30,125.14 L275.80,123.91 L275.30,124.78 L274.80,124.93 L274.30,123.32 L273.80,124.15 L273.30,123.67 L272.80,124.21 L272.30,124.32 L271.80,124.40 L271.30,123.97 L270.80,125.61 L270.30,124.51 L269.80,124.75 L269.30,123.94 L268.80,123.38 L268.30,124.46 L267.80,123.82 L267.30,124.25 L266.80,124.04 L266.30,124.11 L265.80,124.51 L265.30,123.73 L264.80,123.40 L264.30,123.71 L263.80,125.15 L263.30,124.59 L262.80,123.43 L262.30,124.35 L261.80,124.30 L261.30,123.40 L260.80,124.46 L260.30,123.35 L259.80,124.80 L259.30,123.55 L258.80,124.23 L258.30,124.79 L257.80,124.32 L257.30,123.45 L256.80,123.97 L256.30,123.59 L255.80,123.88 L255.30,124.31Z" fill="#1a7f35" stroke="#1a7f35" stroke-width="0.4"/>
<path d="M258.30,120.30 L258.30,129.87 M259.80,120.30 L259.80,111.65 M261.30,120.30 L261.30,115.45 M263.80,120.30 L263.80,126.37 M266.80,120.30 L266.80,112.48 M269.80,120.30 L269.80,111.61 M270.80,120.30 L270.80,130.65 M271.80,120.30 L271.80,112.71 M272.30,120.30 L272.30,113.26 M273.30,120.30 L273.30,112.05 M273.80,120.30 L273.80,127.75 M274.80,120.30 L274.80,111.05 M277.80,120.30 L277.80,113.46 M279.30,120.30 L279.30,125.26 M280.80,120.30 L280.80,126.14 M281.30,120.30 L281.30,124.85 M282.30,120.30 L282.30,126.14 M288.80,120.30 L288.80,124.79 M290.30,120.30 L290.30,116.77 M308.30,120.30 L308.30,124.40 M314.80,120.30 L314.80,116.83 M319.30,120.30 L319.30,116.50 M320.30,120.30 L320.30,124.06 M324.80,120.30 L324.80,124.49 M325.30,120.30 L325.30,124.57 M325.80,120.30 L325.80,125.38 M331.80,120.30 L331.80,123.52 M344.80,120.30 L344.80,123.59 M357.80,120.30 L357.80,124.28 M365.30,120.30 L365.30,115.46 M371.80,120.30 L371.80,114.72 M372.30,120.30 L372.30,124.36 M374.80,120.30 L374.80,115.20 M375.80,120.30 L375.80,115.33 M380.80,120.30 L380.80,116.06 M387.30,120.30 L387.30,115.42 M387.80,120.30 L387.80,114.58 M395.80,120.30 L395.80,123.84 M400.30,120.30 L400.30,117.04 M402.30,120.30 L402.30,115.27 M406.30,120.30 L406.30,114.87 M406.80,120.30 L406.80,125.09 M408.30,120.30 L408.30,116.59 M412.30,120.30 L412.30,125.07 M418.80,120.30 L418.80,114.44 M422.30,120.30 L422.30,126.18 M428.80,120.30 L428.80,126.84 M430.80,120.30 L430.80,124.97 M437.80,120.30 L437.80,126.05 M443.30,120.30 L443.30,116.26 M445.30,120.30 L445.30,124.75 M448.30,120.30 L448.30,114.53 M448.80,120.30 L448.80,125.92 M462.30,120.30 L462.30,116.43 M464.30,120.30 L464.30,115.39" fill="none" stroke="#1a7f35" stroke-width="0.7" opacity="0.7"/>
<path d="M255.30,144.33 L255.80,145.18 L256.30,145.95 L256.80,145.03 L257.30,144.59 L257.80,144.34 L258.30,145.09 L258.80,145.67 L259.30,145.45 L259.80,144.54 L260.30,145.04 L260.80,144.90 L261.30,145.85 L261.80,144.38 L262.30,144.66 L262.80,145.42 L263.30,145.41 L263.80,145.76 L264.30,144.91 L264.80,144.85 L265.30,145.54 L265.80,144.98 L266.30,144.26 L266.80,145.37 L267.30,144.74 L267.80,145.03 L268.30,144.87 L268.80,145.28 L269.30,145.53 L269.80,145.05 L270.30,145.36 L270.80,144.81 L271.30,145.26 L271.80,144.44 L272.30,145.27 L272.80,144.48 L273.30,144.45 L273.80,144.62 L274.30,144.72 L274.80,145.64 L275.30,145.66 L275.80,144.96 L276.30,145.68 L276.80,146.00 L277.30,145.83 L277.80,144.80 L278.30,144.64 L278.80,145.16 L279.30,144.80 L279.80,144.87 L280.30,145.56 L280.80,144.85 L281.30,145.33 L281.80,145.16 L282.30,145.46 L282.80,145.86 L283.30,145.75 L283.80,145.54 L284.30,145.64 L284.80,145.67 L285.30,145.33 L285.80,145.77 L286.30,145.87 L286.80,145.15 L287.30,145.59 L287.80,146.15 L288.30,145.87 L288.80,144.89 L289.30,145.55 L289.80,146.13 L290.30,145.79 L290.80,145.84 L291.30,145.27 L291.80,146.25 L292.30,146.25 L292.80,145.45 L293.30,145.84 L293.80,145.87 L294.30,145.67 L294.80,144.99 L295.30,145.18 L295.80,145.75 L296.30,145.76 L296.80,145.58 L297.30,146.24 L297.80,146.18 L298.30,146.13 L298.80,145.63 L299.30,145.68 L299.80,145.38 L300.30,144.68 L300.80,145.94 L301.30,145.79 L301.80,145.28 L302.30,144.98 L302.80,144.79 L303.30,145.70 L303.80,146.04 L304.30,145.95 L304.80,145.86 L305.30,145.79 L305.80,145.99 L306.30,144.56 L306.80,144.83 L307.30,145.47 L307.80,145.31 L308.30,145.64 L308.80,144.85 L309.30,145.91 L309.80,145.69 L310.30,145.58 L310.80,146.09 L311.30,145.40 L311.80,145.19 L312.30,145.79 L312.80,145.75 L313.30,144.88 L313.80,145.21 L314.30,145.26 L314.80,145.53 L315.30,145.32 L315.80,145.60 L316.30,145.13 L316.80,145.30 L317.30,145.74 L317.80,145.10 L318.30,145.42 L318.80,145.61 L319.30,145.91 L319.80,145.80 L320.30,145.81 L320.80,145.26 L321.30,146.07 L321.80,145.17 L322.30,145.31 L322.80,145.68 L323.30,145.02 L323.80,145.53 L324.30,145.12 L324.80,145.54 L325.30,146.02 L325.80,145.86 L326.30,145.18 L326.80,144.90 L327.30,144.85 L327.80,145.06 L328.30,145.84 L328.80,145.91 L329.30,145.19 L329.80,145.41 L330.30,145.27 L330.80,145.59 L331.30,144.99 L331.80,146.14 L332.30,146.03 L332.80,145.25 L333.30,144.97 L333.80,145.17 L334.30,145.74 L334.80,145.42 L335.30,145.23 L335.80,144.53 L336.30,145.66 L336.80,145.21 L337.30,145.72 L337.80,145.33 L338.30,145.81 L338.80,145.12 L339.30,145.31 L339.80,145.17 L340.30,145.54 L340.80,145.87 L341.30,146.01 L341.80,145.42 L342.30,145.88 L342.80,145.58 L343.30,145.04 L343.80,145.59 L344.30,145.24 L344.80,145.20 L345.30,145.24 L345.80,146.11 L346.30,145.80 L346.80,145.25 L347.30,145.46 L347.80,145.72 L348.30,145.77 L348.80,145.26 L349.30,145.03 L349.80,145.22 L350.30,145.99 L350.80,145.28 L351.30,145.90 L351.80,145.69 L352.30,144.94 L352.80,145.29 L353.30,144.98 L353.80,145.73 L354.30,144.96 L354.80,145.76 L355.30,145.64 L355.80,144.75 L356.30,145.71 L356.80,145.27 L357.30,145.07 L357.80,145.05 L358.30,145.82 L358.80,145.53 L359.30,145.22 L359.80,145.42 L360.30,144.86 L360.80,145.76 L361.30,146.14 L361.80,146.35 L362.30,145.06 L362.80,144.54 L363.30,144.97 L363.80,144.77 L364.30,145.41 L364.80,145.55 L365.30,145.79 L365.80,145.63 L366.30,145.97 L366.80,144.98 L367.30,145.09 L367.80,145.26 L368.30,145.67 L368.80,145.56 L369.30,145.34 L369.80,145.34 L370.30,145.67 L370.80,145.30 L371.30,145.25 L371.80,145.52 L372.30,145.10 L372.80,145.78 L373.30,145.19 L373.80,145.63 L374.30,144.71 L374.80,145.40 L375.30,145.75 L375.80,144.69 L376.30,144.68 L376.80,145.68 L377.30,145.99 L377.80,145.81 L378.30,146.20 L378.80,146.14 L379.30,145.64 L379.80,145.63 L380.30,144.88 L380.80,144.56 L381.30,145.16 L381.80,146.00 L382.30,145.31 L382.80,145.69 L383.30,145.48 L383.80,144.79 L384.30,145.77 L384.80,146.07 L385.30,145.87 L385.80,145.05 L386.30,145.71 L386.80,144.59 L387.30,144.53 L387.80,144.80 L388.30,145.88 L388.80,146.03 L389.30,145.55 L389.80,145.68 L390.30,144.93 L390.80,145.44 L391.30,145.66 L391.80,145.51 L392.30,145.71 L392.80,145.63 L393.30,145.22 L393.80,144.65 L394.30,144.69 L394.80,145.92 L395.30,145.55 L395.80,144.83 L396.30,145.24 L396.80,145.45 L397.30,145.33 L397.80,145.74 L398.30,145.06 L398.80,145.05 L399.30,145.41 L399.80,145.75 L400.30,144.49 L400.80,144.63 L401.30,145.63 L401.80,145.64 L402.30,145.94 L402.80,144.83 L403.30,144.91 L403.80,145.71 L404.30,145.86 L404.80,145.78 L405.30,145.73 L405.80,145.64 L406.30,146.03 L406.80,145.31 L407.30,144.76 L407.80,144.39 L408.30,145.22 L408.80,145.83 L409.30,144.89 L409.80,144.59 L410.30,145.16 L410.80,145.67 L411.30,145.73 L411.80,145.69 L412.30,145.64 L412.80,146.24 L413.30,145.26 L413.80,145.48 L414.30,145.16 L414.80,144.60 L415.30,144.98 L415.80,145.37 L416.30,145.20 L416.80,145.05 L417.30,145.31 L417.80,145.81 L418.30,145.43 L418.80,145.18 L419.30,145.24 L419.80,145.62 L420.30,145.67 L420.80,144.95 L421.30,144.49 L421.80,145.73 L422.30,145.52 L422.80,145.29 L423.30,144.49 L423.80,145.10 L424.30,144.98 L424.80,145.68 L425.30,144.91 L425.80,145.66 L426.30,145.21 L426.80,145.02 L427.30,145.56 L427.80,145.55 L428.30,145.59 L428.80,145.50 L429.30,145.83 L429.80,145.19 L430.30,145.27 L430.80,144.85 L431.30,145.18 L431.80,144.75 L432.30,145.16 L432.80,144.96 L433.30,145.79 L433.80,144.86 L434.30,145.41 L434.80,145.05 L435.30,145.40 L435.80,145.81 L436.30,144.73 L436.80,144.62 L437.30,144.80 L437.80,145.18 L438.30,144.93 L438.80,144.96 L439.30,146.09 L439.80,145.96 L440.30,145.51 L440.80,145.52 L441.30,145.46 L441.80,145.76 L442.30,145.60 L442.80,145.68 L443.30,144.39 L443.80,144.48 L444.30,144.79 L444.80,144.18 L445.30,145.08 L445.80,144.91 L446.30,145.55 L446.80,146.11 L447.30,145.94 L447.80,145.24 L448.30,145.70 L448.80,145.76 L449.30,144.70 L449.80,145.27 L450.30,144.74 L450.80,145.72 L451.30,144.79 L451.80,145.40 L452.30,144.96 L452.80,145.25 L453.30,145.55 L453.80,145.27 L454.30,145.24 L454.80,145.55 L455.30,145.02 L455.80,145.15 L456.30,144.44 L456.80,144.79 L457.30,145.46 L457.80,145.55 L458.30,145.60 L458.80,144.99 L459.30,145.78 L459.80,145.56 L460.30,145.05 L460.80,145.08 L461.30,145.37 L461.80,145.03 L462.30,145.40 L462.80,145.41 L463.30,144.77 L463.80,145.10 L464.30,144.64 L464.80,144.68 L465.30,144.59 L465.80,145.34 L466.30,145.49 L466.80,144.98 L467.30,145.43 L467.80,145.26 L468.30,145.40 L468.80,145.91 L469.30,145.79 L469.80,145.46 L469.80,150.25 L469.30,150.48 L468.80,150.12 L468.30,150.11 L467.80,150.24 L467.30,150.09 L466.80,150.36 L466.30,151.36 L465.80,150.74 L465.30,150.86 L464.80,150.60 L464.30,151.42 L463.80,150.68 L463.30,150.44 L462.80,150.84 L462.30,149.97 L461.80,151.24 L461.30,151.73 L460.80,151.16 L460.30,151.00 L459.80,150.48 L459.30,150.41 L458.80,151.25 L458.30,151.19 L457.80,150.81 L457.30,150.65 L456.80,150.50 L456.30,151.09 L455.80,150.62 L455.30,150.93 L454.80,151.36 L454.30,150.82 L453.80,150.73 L453.30,150.14 L452.80,150.07 L452.30,150.65 L451.80,150.96 L451.30,150.61 L450.80,151.13 L450.30,150.76 L449.80,151.60 L449.30,150.75 L448.80,150.63 L448.30,150.13 L447.80,150.16 L447.30,150.50 L446.80,150.10 L446.30,149.77 L445.80,150.34 L445.30,150.37 L444.80,150.82 L444.30,151.07 L443.80,150.81 L443.30,150.65 L442.80,150.23 L442.30,150.83 L441.80,150.62 L441.30,150.29 L440.80,151.34 L440.30,150.13 L439.80,150.28 L439.30,150.71 L438.80,150.19 L438.30,151.44 L437.80,151.56 L437.30,150.77 L436.80,151.38 L436.30,150.54 L435.80,150.40 L435.30,150.84 L434.80,150.40 L434.30,150.12 L433.80,151.08 L433.30,150.01 L432.80,151.13 L432.30,151.14 L431.80,151.15 L431.30,151.09 L430.80,150.99 L430.30,150.68 L429.80,150.19 L429.30,150.95 L428.80,150.92 L428.30,150.43 L427.80,150.21 L427.30,151.18 L426.80,150.16 L426.30,149.94 L425.80,150.28 L425.30,151.31 L424.80,150.55 L424.30,150.97 L423.80,151.48 L423.30,151.17 L422.80,151.13 L422.30,150.55 L421.80,150.77 L421.30,150.84 L420.80,150.54 L420.30,150.22 L419.80,150.65 L419.30,150.63 L418.80,150.25 L418.30,150.60 L417.80,150.86 L417.30,150.13 L416.80,151.24 L416.30,151.33 L415.80,151.24 L415.30,150.29 L414.80,150.80 L414.30,151.00 L413.80,151.01 L413.30,150.17 L412.80,150.53 L412.30,150.52 L411.80,150.30 L411.30,150.81 L410.80,150.90 L410.30,150.48 L409.80,151.07 L409.30,151.46 L408.80,151.21 L408.30,150.09 L407.80,151.11 L407.30,150.36 L406.80,150.66 L406.30,150.50 L405.80,150.33 L405.30,150.20 L404.80,151.18 L404.30,150.90 L403.80,151.42 L403.30,150.56 L402.80,151.12 L402.30,151.13 L401.80,150.43 L401.30,150.14 L400.80,151.15 L400.30,151.25 L399.80,150.29 L399.30,150.61 L398.80,150.27 L398.30,151.03 L397.80,151.04 L397.30,150.09 L396.80,150.65 L396.30,151.25 L395.80,150.74 L395.30,150.40 L394.80,150.66 L394.30,150.55 L393.80,150.66 L393.30,150.52 L392.80,150.07 L392.30,150.05 L391.80,150.84 L391.30,151.19 L390.80,150.42 L390.30,150.12 L389.80,150.81 L389.30,150.53 L388.80,150.08 L388.30,150.58 L387.80,150.78 L387.30,150.48 L386.80,151.01 L386.30,150.78 L385.80,149.90 L385.30,150.70 L384.80,150.81 L384.30,150.64 L383.80,150.30 L383.30,151.20 L382.80,150.44 L382.30,150.58 L381.80,150.34 L381.30,150.83 L380.80,151.51 L380.30,150.68 L379.80,150.15 L379.30,150.77 L378.80,150.27 L378.30,150.20 L377.80,150.40 L377.30,150.91 L376.80,151.06 L376.30,151.38 L375.80,151.22 L375.30,150.22 L374.80,150.47 L374.30,151.32 L373.80,151.28 L373.30,150.16 L372.80,150.37 L372.30,150.25 L371.80,150.69 L371.30,150.25 L370.80,150.73 L370.30,150.36 L369.80,151.19 L369.30,150.54 L368.80,150.72 L368.30,150.69 L367.80,150.57 L367.30,150.55 L366.80,150.94 L366.30,150.42 L365.80,150.27 L365.30,150.28 L364.80,150.62 L364.30,150.54 L363.80,150.75 L363.30,151.55 L362.80,151.29 L362.30,151.09 L361.80,149.69 L361.30,150.14 L360.80,151.14 L360.30,151.32 L359.80,150.04 L359.30,150.27 L358.80,150.90 L358.30,150.86 L357.80,150.11 L357.30,149.88 L356.80,150.74 L356.30,150.74 L355.80,151.10 L355.30,150.71 L354.80,149.93 L354.30,150.06 L353.80,150.91 L353.30,150.68 L352.80,150.18 L352.30,150.29 L351.80,150.17 L351.30,150.38 L350.80,150.04 L350.30,150.57 L349.80,150.75 L349.30,150.35 L348.80,150.75 L348.30,149.94 L347.80,150.96 L347.30,150.42 L346.80,151.04 L346.30,150.91 L345.80,149.90 L345.30,150.42 L344.80,150.37 L344.30,150.14 L343.80,150.31 L343.30,150.26 L342.80,151.10 L342.30,150.18 L341.80,150.40 L341.30,150.37 L340.80,150.65 L340.30,150.32 L339.80,150.58 L339.30,150.11 L338.80,150.88 L338.30,150.52 L337.80,150.13 L337.30,150.97 L336.80,151.04 L336.30,150.22 L335.80,151.36 L335.30,150.32 L334.80,150.38 L334.30,150.99 L333.80,149.97 L333.30,151.11 L332.80,150.56 L332.30,150.29 L331.80,149.80 L331.30,150.17 L330.80,150.70 L330.30,151.13 L329.80,151.35 L329.30,151.31 L328.80,150.28 L328.30,149.85 L327.80,150.28 L327.30,150.14 L326.80,150.46 L326.30,150.62 L325.80,150.25 L325.30,150.35 L324.80,150.29 L324.30,150.02 L323.80,150.90 L323.30,151.06 L322.80,151.41 L322.30,151.10 L321.80,150.62 L321.30,150.65 L320.80,150.13 L320.30,151.12 L319.80,150.58 L319.30,150.90 L318.80,151.11 L318.30,150.88 L317.80,149.91 L317.30,150.19 L316.80,150.71 L316.30,151.11 L315.80,150.78 L315.30,150.98 L314.80,150.12 L314.30,150.69 L313.80,150.83 L313.30,150.38 L312.80,149.98 L312.30,149.84 L311.80,149.97 L311.30,150.41 L310.80,150.17 L310.30,149.69 L309.80,150.18 L309.30,150.56 L308.80,150.56 L308.30,150.80 L307.80,150.18 L307.30,150.94 L306.80,150.31 L306.30,150.41 L305.80,150.84 L305.30,150.32 L304.80,150.44 L304.30,150.41 L303.80,150.26 L303.30,149.86 L302.80,151.10 L302.30,150.66 L301.80,151.15 L301.30,150.64 L300.80,150.07 L300.30,151.35 L299.80,150.44 L299.30,151.04 L298.80,150.44 L298.30,149.92 L297.80,150.58 L297.30,149.78 L296.80,150.26 L296.30,149.91 L295.80,151.12 L295.30,151.36 L294.80,150.06 L294.30,149.98 L293.80,150.33 L293.30,150.33 L292.80,151.08 L292.30,150.69 L291.80,150.51 L291.30,149.81 L290.80,150.56 L290.30,150.90 L289.80,150.47 L289.30,150.26 L288.80,150.68 L288.30,149.96 L287.80,150.26 L287.30,150.02 L286.80,150.50 L286.30,151.02 L285.80,150.85 L285.30,150.99 L284.80,150.36 L284.30,149.81 L283.80,150.27 L283.30,150.67 L282.80,150.18 L282.30,150.70 L281.80,150.89 L281.30,150.42 L280.80,151.06 L280.30,150.68 L279.80,150.67 L279.30,151.00 L278.80,151.82 L278.30,151.89 L277.80,150.46 L277.30,150.15 L276.80,151.06 L276.30,151.01 L275.80,150.99 L275.30,150.83 L274.80,151.11 L274.30,151.41 L273.80,150.52 L273.30,151.00 L272.80,151.79 L272.30,151.10 L271.80,151.37 L271.30,151.52 L270.80,150.27 L270.30,150.38 L269.80,150.03 L269.30,150.61 L268.80,151.16 L268.30,151.27 L267.80,150.44 L267.30,150.86 L266.80,151.50 L266.30,150.83 L265.80,151.02 L265.30,151.01 L264.80,151.72 L264.30,150.58 L263.80,150.27 L263.30,150.87 L262.80,150.80 L262.30,151.16 L261.80,150.36 L261.30,150.22 L260.80,150.96 L260.30,150.94 L259.80,151.42 L259.30,151.70 L258.80,151.49 L258.30,151.57 L257.80,150.82 L257.30,151.17 L256.80,150.72 L256.30,150.88 L255.80,150.66 L255.30,150.75Z" fill="#e8231f" stroke="#e8231f" stroke-width="0.4"/>
<path d="M257.30,148.00 L257.30,139.35 M258.30,148.00 L258.30,156.39 M258.80,148.00 L258.80,157.38 M259.80,148.00 L259.80,158.67 M262.30,148.00 L262.30,156.41 M265.30,148.00 L265.30,142.76 M267.30,148.00 L267.30,157.04 M267.80,148.00 L267.80,143.50 M269.30,148.00 L269.30,141.32 M270.80,148.00 L270.80,139.49 M271.30,148.00 L271.30,138.51 M272.30,148.00 L272.30,143.10 M273.30,148.00 L273.30,153.81 M274.30,148.00 L274.30,141.02 M274.80,148.00 L274.80,139.23 M278.30,148.00 L278.30,137.11 M295.80,148.00 L295.80,153.60 M301.30,148.00 L301.30,143.24 M301.80,148.00 L301.80,153.61 M303.80,148.00 L303.80,143.70 M315.30,148.00 L315.30,143.00 M317.30,148.00 L317.30,143.32 M333.80,148.00 L333.80,151.39 M337.30,148.00 L337.30,151.24 M348.30,148.00 L348.30,142.90 M349.30,148.00 L349.30,144.51 M371.30,148.00 L371.30,152.13 M373.80,148.00 L373.80,142.14 M396.30,148.00 L396.30,141.81 M396.80,148.00 L396.80,153.63 M406.30,148.00 L406.30,145.31 M408.30,148.00 L408.30,151.97 M422.80,148.00 L422.80,143.48 M434.80,148.00 L434.80,152.60 M436.80,148.00 L436.80,154.12 M437.30,148.00 L437.30,141.98 M449.80,148.00 L449.80,142.50 M450.30,148.00 L450.30,143.95 M468.80,148.00 L468.80,143.95 M469.80,148.00 L469.80,142.51" fill="none" stroke="#e8231f" stroke-width="0.7" opacity="0.7"/>
<path d="M255.30,174.16 L255.80,174.19 L256.30,172.30 L256.80,172.03 L257.30,173.07 L257.80,173.94 L258.30,173.76 L258.80,173.83 L259.30,173.26 L259.80,173.03 L260.30,173.73 L260.80,174.09 L261.30,173.42 L261.80,173.93 L262.30,173.49 L262.80,174.05 L263.30,172.65 L263.80,174.39 L264.30,173.57 L264.80,174.00 L265.30,172.13 L265.80,171.86 L266.30,173.48 L266.80,172.73 L267.30,173.81 L267.80,172.67 L268.30,173.23 L268.80,173.31 L269.30,173.00 L269.80,174.21 L270.30,174.23 L270.80,172.80 L271.30,172.57 L271.80,172.01 L272.30,173.23 L272.80,171.61 L273.30,172.48 L273.80,172.98 L274.30,173.03 L274.80,173.30 L275.30,173.05 L275.80,173.00 L276.30,172.59 L276.80,172.49 L277.30,173.14 L277.80,173.16 L278.30,171.87 L278.80,171.91 L279.30,172.74 L279.80,174.28 L280.30,173.75 L280.80,173.05 L281.30,173.25 L281.80,172.22 L282.30,172.12 L282.80,173.37 L283.30,172.96 L283.80,171.72 L284.30,173.28 L284.80,173.52 L285.30,172.61 L285.80,173.27 L286.30,173.25 L286.80,173.95 L287.30,173.64 L287.80,172.49 L288.30,173.23 L288.80,173.70 L289.30,172.54 L289.80,172.58 L290.30,173.01 L290.80,173.38 L291.30,172.24 L291.80,173.53 L292.30,173.36 L292.80,173.49 L293.30,173.11 L293.80,172.63 L294.30,173.13 L294.80,173.64 L295.30,172.87 L295.80,172.64 L296.30,172.75 L296.80,173.62 L297.30,171.48 L297.80,172.13 L298.30,172.45 L298.80,172.04 L299.30,173.90 L299.80,172.79 L300.30,174.24 L300.80,173.77 L301.30,173.40 L301.80,174.32 L302.30,174.25 L302.80,173.22 L303.30,171.54 L303.80,172.43 L304.30,172.41 L304.80,173.00 L305.30,172.25 L305.80,173.42 L306.30,173.45 L306.80,173.49 L307.30,174.03 L307.80,173.71 L308.30,173.64 L308.80,173.74 L309.30,173.52 L309.80,172.97 L310.30,172.84 L310.80,173.17 L311.30,172.62 L311.80,173.67 L312.30,172.94 L312.80,172.91 L313.30,172.66 L313.80,172.79 L314.30,173.86 L314.80,172.68 L315.30,172.75 L315.80,173.65 L316.30,173.51 L316.80,172.60 L317.30,172.35 L317.80,174.23 L318.30,173.15 L318.80,172.86 L319.30,171.83 L319.80,173.04 L320.30,173.35 L320.80,172.93 L321.30,173.06 L321.80,174.05 L322.30,173.48 L322.80,172.45 L323.30,173.44 L323.80,173.28 L324.30,172.93 L324.80,173.19 L325.30,172.52 L325.80,172.58 L326.30,173.67 L326.80,172.99 L327.30,173.22 L327.80,173.44 L328.30,173.47 L328.80,173.08 L329.30,172.30 L329.80,173.10 L330.30,172.67 L330.80,173.54 L331.30,173.13 L331.80,172.78 L332.30,173.94 L332.80,173.78 L333.30,174.00 L333.80,172.58 L334.30,174.03 L334.80,173.64 L335.30,172.17 L335.80,172.01 L336.30,172.47 L336.80,173.64 L337.30,173.91 L337.80,174.18 L338.30,174.17 L338.80,172.97 L339.30,172.59 L339.80,173.05 L340.30,173.49 L340.80,173.11 L341.30,172.11 L341.80,173.36 L342.30,172.89 L342.80,174.21 L343.30,173.18 L343.80,173.53 L344.30,172.97 L344.80,173.24 L345.30,173.57 L345.80,172.70 L346.30,173.51 L346.80,173.22 L347.30,172.93 L347.80,173.31 L348.30,173.93 L348.80,172.98 L349.30,173.92 L349.80,172.58 L350.30,172.37 L350.80,172.82 L351.30,173.40 L351.80,172.23 L352.30,172.82 L352.80,173.67 L353.30,173.36 L353.80,174.08 L354.30,173.06 L354.80,173.98 L355.30,173.01 L355.80,173.31 L356.30,172.94 L356.80,173.02 L357.30,173.55 L357.80,172.92 L358.30,173.18 L358.80,172.46 L359.30,173.57 L359.80,173.88 L360.30,172.48 L360.80,173.47 L361.30,172.71 L361.80,173.23 L362.30,173.83 L362.80,172.86 L363.30,172.98 L363.80,173.05 L364.30,172.48 L364.80,172.54 L365.30,173.94 L365.80,173.45 L366.30,173.47 L366.80,172.57 L367.30,172.51 L367.80,173.85 L368.30,174.12 L368.80,173.97 L369.30,173.88 L369.80,173.35 L370.30,173.15 L370.80,173.67 L371.30,172.45 L371.80,172.79 L372.30,173.13 L372.80,172.90 L373.30,173.05 L373.80,172.81 L374.30,172.98 L374.80,173.83 L375.30,174.24 L375.80,173.98 L376.30,173.45 L376.80,173.48 L377.30,173.90 L377.80,173.68 L378.30,172.18 L378.80,173.29 L379.30,173.10 L379.80,172.56 L380.30,173.94 L380.80,174.01 L381.30,173.67 L381.80,172.90 L382.30,174.09 L382.80,172.40 L383.30,173.33 L383.80,173.95 L384.30,172.50 L384.80,173.56 L385.30,171.98 L385.80,173.13 L386.30,172.26 L386.80,173.16 L387.30,174.04 L387.80,173.91 L388.30,173.13 L388.80,172.27 L389.30,173.52 L389.80,172.98 L390.30,172.92 L390.80,172.97 L391.30,173.66 L391.80,173.61 L392.30,173.71 L392.80,173.10 L393.30,174.01 L393.80,172.65 L394.30,173.18 L394.80,173.94 L395.30,172.68 L395.80,173.28 L396.30,172.77 L396.80,173.48 L397.30,172.64 L397.80,173.55 L398.30,172.23 L398.80,172.90 L399.30,173.43 L399.80,172.89 L400.30,173.92 L400.80,173.23 L401.30,173.98 L401.80,173.14 L402.30,173.83 L402.80,173.71 L403.30,172.37 L403.80,173.63 L404.30,171.94 L404.80,172.01 L405.30,172.23 L405.80,173.59 L406.30,173.50 L406.80,173.51 L407.30,173.74 L407.80,173.31 L408.30,173.09 L408.80,173.07 L409.30,172.43 L409.80,173.68 L410.30,172.50 L410.80,173.01 L411.30,172.90 L411.80,172.51 L412.30,173.48 L412.80,172.74 L413.30,173.52 L413.80,173.21 L414.30,173.82 L414.80,173.62 L415.30,174.11 L415.80,172.50 L416.30,172.30 L416.80,173.36 L417.30,172.90 L417.80,173.13 L418.30,173.80 L418.80,172.32 L419.30,172.92 L419.80,173.05 L420.30,172.79 L420.80,173.56 L421.30,173.96 L421.80,172.62 L422.30,173.38 L422.80,173.30 L423.30,172.70 L423.80,172.10 L424.30,172.42 L424.80,172.63 L425.30,173.29 L425.80,173.93 L426.30,172.12 L426.80,173.22 L427.30,172.28 L427.80,173.00 L428.30,173.52 L428.80,172.45 L429.30,172.17 L429.80,171.85 L430.30,173.64 L430.80,173.63 L431.30,173.69 L431.80,173.13 L432.30,172.35 L432.80,172.09 L433.30,173.52 L433.80,172.96 L434.30,173.66 L434.80,172.22 L435.30,173.34 L435.80,173.53 L436.30,172.09 L436.80,173.76 L437.30,173.17 L437.80,173.05 L438.30,173.48 L438.80,173.66 L439.30,171.80 L439.80,171.96 L440.30,173.11 L440.80,171.92 L441.30,172.60 L441.80,172.96 L442.30,172.89 L442.80,172.42 L443.30,172.50 L443.80,173.95 L444.30,172.51 L444.80,173.30 L445.30,173.38 L445.80,173.29 L446.30,172.88 L446.80,173.35 L447.30,172.13 L447.80,172.37 L448.30,172.22 L448.80,171.89 L449.30,172.14 L449.80,172.95 L450.30,173.92 L450.80,173.21 L451.30,172.05 L451.80,171.75 L452.30,173.55 L452.80,172.91 L453.30,173.10 L453.80,172.11 L454.30,171.77 L454.80,171.47 L455.30,172.24 L455.80,172.87 L456.30,172.90 L456.80,172.67 L457.30,173.29 L457.80,171.69 L458.30,173.52 L458.80,172.53 L459.30,173.26 L459.80,172.46 L460.30,172.03 L460.80,172.85 L461.30,173.49 L461.80,173.63 L462.30,172.57 L462.80,172.23 L463.30,172.75 L463.80,173.47 L464.30,171.71 L464.80,172.46 L465.30,172.43 L465.80,172.54 L466.30,172.31 L466.80,171.91 L467.30,172.05 L467.80,172.60 L468.30,172.89 L468.80,172.48 L469.30,173.52 L469.80,173.30 L469.80,181.25 L469.30,180.16 L468.80,180.21 L468.30,181.76 L467.80,181.04 L467.30,180.59 L466.80,181.59 L466.30,180.88 L465.80,181.58 L465.30,181.45 L464.80,180.59 L464.30,180.72 L463.80,181.95 L463.30,180.93 L462.80,181.37 L462.30,180.62 L461.80,181.71 L461.30,180.94 L460.80,181.47 L460.30,181.75 L459.80,181.90 L459.30,180.89 L458.80,181.12 L458.30,182.20 L457.80,180.43 L457.30,180.91 L456.80,181.33 L456.30,180.35 L455.80,181.47 L455.30,181.60 L454.80,181.33 L454.30,181.51 L453.80,180.69 L453.30,181.57 L452.80,181.72 L452.30,181.20 L451.80,180.43 L451.30,181.17 L450.80,180.99 L450.30,181.24 L449.80,180.74 L449.30,180.24 L448.80,181.93 L448.30,182.27 L447.80,181.83 L447.30,181.94 L446.80,182.13 L446.30,180.88 L445.80,182.04 L445.30,182.20 L444.80,181.03 L444.30,181.33 L443.80,180.16 L443.30,180.58 L442.80,180.36 L442.30,181.10 L441.80,181.77 L441.30,181.84 L440.80,180.60 L440.30,180.50 L439.80,181.30 L439.30,181.00 L438.80,181.49 L438.30,181.56 L437.80,180.83 L437.30,181.08 L436.80,180.64 L436.30,181.64 L435.80,181.11 L435.30,180.40 L434.80,181.23 L434.30,180.10 L433.80,180.62 L433.30,180.15 L432.80,182.02 L432.30,180.50 L431.80,180.07 L431.30,180.73 L430.80,181.84 L430.30,181.41 L429.80,180.80 L429.30,180.99 L428.80,181.11 L428.30,180.06 L427.80,181.29 L427.30,181.37 L426.80,180.39 L426.30,180.26 L425.80,180.14 L425.30,180.11 L424.80,182.04 L424.30,181.91 L423.80,181.79 L423.30,180.39 L422.80,180.43 L422.30,179.77 L421.80,180.26 L421.30,181.15 L420.80,181.12 L420.30,181.56 L419.80,181.54 L419.30,181.07 L418.80,180.49 L418.30,181.54 L417.80,181.49 L417.30,180.48 L416.80,181.21 L416.30,181.33 L415.80,180.76 L415.30,180.60 L414.80,180.48 L414.30,180.24 L413.80,181.45 L413.30,180.64 L412.80,180.01 L412.30,180.43 L411.80,180.88 L411.30,181.29 L410.80,181.90 L410.30,180.69 L409.80,181.26 L409.30,180.77 L408.80,179.96 L408.30,181.69 L407.80,180.89 L407.30,181.10 L406.80,180.12 L406.30,180.35 L405.80,180.09 L405.30,181.48 L404.80,180.71 L404.30,180.74 L403.80,180.28 L403.30,181.42 L402.80,181.29 L402.30,181.70 L401.80,180.63 L401.30,181.29 L400.80,180.00 L400.30,179.94 L399.80,180.95 L399.30,181.18 L398.80,181.54 L398.30,180.85 L397.80,181.75 L397.30,180.76 L396.80,180.21 L396.30,181.23 L395.80,179.97 L395.30,180.37 L394.80,180.30 L394.30,181.26 L393.80,181.45 L393.30,180.41 L392.80,180.64 L392.30,180.78 L391.80,180.45 L391.30,181.28 L390.80,181.22 L390.30,180.81 L389.80,179.94 L389.30,180.17 L388.80,180.93 L388.30,181.01 L387.80,180.21 L387.30,181.09 L386.80,180.88 L386.30,180.48 L385.80,180.55 L385.30,180.22 L384.80,180.43 L384.30,180.92 L383.80,180.22 L383.30,181.65 L382.80,180.24 L382.30,181.53 L381.80,180.75 L381.30,180.09 L380.80,180.42 L380.30,179.94 L379.80,181.79 L379.30,181.77 L378.80,180.80 L378.30,181.29 L377.80,180.69 L377.30,181.45 L376.80,181.14 L376.30,180.02 L375.80,180.53 L375.30,179.56 L374.80,180.40 L374.30,179.96 L373.80,181.42 L373.30,181.09 L372.80,181.23 L372.30,180.74 L371.80,182.16 L371.30,180.37 L370.80,180.92 L370.30,181.33 L369.80,180.00 L369.30,179.63 L368.80,180.34 L368.30,180.29 L367.80,181.14 L367.30,180.33 L366.80,180.93 L366.30,180.75 L365.80,181.83 L365.30,180.93 L364.80,181.53 L364.30,181.25 L363.80,180.36 L363.30,181.73 L362.80,181.13 L362.30,179.93 L361.80,180.93 L361.30,180.26 L360.80,180.05 L360.30,180.37 L359.80,179.75 L359.30,180.66 L358.80,180.00 L358.30,180.89 L357.80,181.33 L357.30,181.03 L356.80,181.47 L356.30,181.07 L355.80,180.77 L355.30,180.83 L354.80,179.85 L354.30,181.22 L353.80,180.21 L353.30,180.71 L352.80,181.07 L352.30,181.24 L351.80,180.96 L351.30,180.59 L350.80,180.44 L350.30,181.04 L349.80,180.45 L349.30,179.77 L348.80,180.42 L348.30,181.10 L347.80,180.20 L347.30,181.55 L346.80,181.63 L346.30,181.39 L345.80,180.23 L345.30,180.78 L344.80,181.05 L344.30,180.31 L343.80,180.41 L343.30,179.59 L342.80,180.79 L342.30,180.38 L341.80,180.69 L341.30,181.92 L340.80,180.53 L340.30,181.10 L339.80,180.27 L339.30,179.95 L338.80,180.78 L338.30,181.01 L337.80,180.36 L337.30,181.06 L336.80,180.46 L336.30,180.97 L335.80,180.52 L335.30,180.44 L334.80,181.08 L334.30,180.38 L333.80,180.08 L333.30,180.71 L332.80,180.46 L332.30,180.55 L331.80,179.79 L331.30,179.99 L330.80,180.12 L330.30,180.92 L329.80,181.45 L329.30,180.91 L328.80,180.77 L328.30,181.01 L327.80,181.30 L327.30,180.65 L326.80,180.13 L326.30,180.35 L325.80,182.02 L325.30,181.94 L324.80,181.60 L324.30,180.48 L323.80,181.35 L323.30,180.33 L322.80,180.26 L322.30,179.87 L321.80,181.13 L321.30,180.05 L320.80,181.14 L320.30,181.40 L319.80,181.87 L319.30,181.15 L318.80,181.05 L318.30,180.59 L317.80,181.23 L317.30,180.57 L316.80,181.05 L316.30,181.26 L315.80,180.23 L315.30,181.11 L314.80,179.87 L314.30,180.56 L313.80,180.96 L313.30,181.25 L312.80,180.02 L312.30,181.37 L311.80,180.69 L311.30,180.72 L310.80,181.88 L310.30,180.55 L309.80,180.59 L309.30,181.21 L308.80,180.32 L308.30,179.82 L307.80,179.98 L307.30,179.63 L306.80,179.94 L306.30,180.47 L305.80,180.28 L305.30,181.10 L304.80,181.14 L304.30,182.77 L303.80,180.98 L303.30,182.58 L302.80,180.85 L302.30,181.17 L301.80,180.57 L301.30,180.17 L300.80,180.97 L300.30,181.13 L299.80,180.44 L299.30,181.47 L298.80,181.09 L298.30,182.51 L297.80,181.35 L297.30,181.96 L296.80,181.36 L296.30,181.34 L295.80,180.51 L295.30,180.07 L294.80,180.08 L294.30,181.39 L293.80,181.40 L293.30,180.61 L292.80,180.43 L292.30,181.51 L291.80,180.97 L291.30,181.26 L290.80,181.68 L290.30,180.19 L289.80,181.82 L289.30,180.33 L288.80,181.61 L288.30,181.78 L287.80,180.30 L287.30,181.22 L286.80,180.22 L286.30,179.66 L285.80,180.32 L285.30,181.03 L284.80,181.53 L284.30,181.78 L283.80,182.28 L283.30,181.21 L282.80,181.85 L282.30,180.25 L281.80,180.39 L281.30,181.37 L280.80,180.32 L280.30,179.50 L279.80,180.21 L279.30,181.38 L278.80,180.37 L278.30,180.56 L277.80,181.01 L277.30,181.60 L276.80,181.63 L276.30,180.12 L275.80,180.16 L275.30,181.39 L274.80,180.86 L274.30,179.80 L273.80,181.13 L273.30,180.50 L272.80,180.57 L272.30,182.02 L271.80,181.50 L271.30,181.17 L270.80,180.47 L270.30,180.19 L269.80,180.63 L269.30,180.14 L268.80,179.62 L268.30,180.46 L267.80,181.48 L267.30,181.55 L266.80,181.13 L266.30,180.50 L265.80,181.23 L265.30,181.25 L264.80,180.49 L264.30,180.44 L263.80,179.74 L263.30,180.03 L262.80,181.39 L262.30,181.02 L261.80,179.91 L261.30,179.88 L260.80,180.55 L260.30,181.72 L259.80,181.63 L259.30,181.91 L258.80,180.19 L258.30,180.99 L257.80,180.96 L257.30,181.48 L256.80,181.66 L256.30,181.17 L255.80,180.18 L255.30,180.71Z" fill="#7a208f" stroke="#7a208f" stroke-width="0.4"/>
<path d="M260.80,177.00 L260.80,182.82 M262.80,177.00 L262.80,171.29 M263.80,177.00 L263.80,182.61 M286.80,177.00 L286.80,181.55 M303.80,177.00 L303.80,169.58 M306.80,177.00 L306.80,172.70 M313.30,177.00 L313.30,183.50 M317.80,177.00 L317.80,182.56 M329.80,177.00 L329.80,183.52 M340.30,177.00 L340.30,182.98 M345.80,177.00 L345.80,181.77 M346.30,177.00 L346.30,182.74 M351.30,177.00 L351.30,171.84 M358.80,177.00 L358.80,171.68 M363.80,177.00 L363.80,171.89 M388.80,177.00 L388.80,172.03 M401.30,177.00 L401.30,182.32 M408.30,177.00 L408.30,182.82 M421.30,177.00 L421.30,171.65 M425.80,177.00 L425.80,182.10 M433.80,177.00 L433.80,182.27 M447.80,177.00 L447.80,182.16 M448.30,177.00 L448.30,184.47 M456.80,177.00 L456.80,170.46 M466.30,177.00 L466.30,171.74" fill="none" stroke="#7a208f" stroke-width="0.7" opacity="0.7"/>
<rect x="291" y="27.8" width="3.2" height="174.2" fill="#b5dde8" opacity="0.5"/>
<line x1="273" y1="27.8" x2="273" y2="201.8" stroke="#9a9a9a" stroke-width="0.95" style="mix-blend-mode:multiply"/>
<line x1="303.7" y1="27.8" x2="303.7" y2="201.8" stroke="#9a9a9a" stroke-width="0.95" style="mix-blend-mode:multiply"/>
<line x1="317.5" y1="27.8" x2="317.5" y2="201.8" stroke="#9a9a9a" stroke-width="0.95" style="mix-blend-mode:multiply"/>
<line x1="324.4" y1="27.8" x2="324.4" y2="201.8" stroke="#9a9a9a" stroke-width="0.95" style="mix-blend-mode:multiply"/>
<line x1="338.7" y1="27.8" x2="338.7" y2="201.8" stroke="#9a9a9a" stroke-width="0.95" style="mix-blend-mode:multiply"/>
<line x1="358" y1="27.8" x2="358" y2="201.8" stroke="#9a9a9a" stroke-width="0.95" style="mix-blend-mode:multiply"/>
<line x1="377.2" y1="27.8" x2="377.2" y2="201.8" stroke="#9a9a9a" stroke-width="0.95" style="mix-blend-mode:multiply"/>
<line x1="396.6" y1="27.8" x2="396.6" y2="201.8" stroke="#9a9a9a" stroke-width="0.95" style="mix-blend-mode:multiply"/>
<line x1="415.8" y1="27.8" x2="415.8" y2="201.8" stroke="#9a9a9a" stroke-width="0.95" style="mix-blend-mode:multiply"/>
<line x1="435.2" y1="27.8" x2="435.2" y2="201.8" stroke="#9a9a9a" stroke-width="0.95" style="mix-blend-mode:multiply"/>
<line x1="454.4" y1="27.8" x2="454.4" y2="201.8" stroke="#9a9a9a" stroke-width="0.95" style="mix-blend-mode:multiply"/>
<text x="0" y="0" font-family="Liberation Sans" font-weight="bold" font-size="7.4" fill="#000" transform="translate(273.3,21) rotate(-45)">bf</text>
<text x="0" y="0" font-family="Liberation Sans" font-weight="bold" font-size="7.4" fill="#000" transform="translate(303.5,24) rotate(-45)">aft</text>
<text x="0" y="0" font-family="Liberation Sans" font-weight="bold" font-size="7.4" fill="#000" transform="translate(315.2,24) rotate(-45)">ons</text>
<text x="0" y="0" font-family="Liberation Sans" font-weight="bold" font-size="7.4" fill="#000" transform="translate(323.4,24) rotate(-45)">dep</text>
<text x="0" y="0" font-family="Liberation Sans" font-weight="bold" font-size="7.4" fill="#000" transform="translate(339.5,24) rotate(-45)">r1</text>
<text x="0" y="0" font-family="Liberation Sans" font-weight="bold" font-size="7.4" fill="#000" transform="translate(358.5,24) rotate(-45)">r2</text>
<text x="0" y="0" font-family="Liberation Sans" font-weight="bold" font-size="7.4" fill="#000" transform="translate(377.7,24) rotate(-45)">r3</text>
<text x="0" y="0" font-family="Liberation Sans" font-weight="bold" font-size="7.4" fill="#000" transform="translate(397.1,24) rotate(-45)">r4</text>
<text x="0" y="0" font-family="Liberation Sans" font-weight="bold" font-size="7.4" fill="#000" transform="translate(416.3,24) rotate(-45)">r5</text>
<text x="0" y="0" font-family="Liberation Sans" font-weight="bold" font-size="7.4" fill="#000" transform="translate(435.7,24) rotate(-45)">r6</text>
<text x="0" y="0" font-family="Liberation Sans" font-weight="bold" font-size="7.4" fill="#000" transform="translate(454.9,24) rotate(-45)">r7</text>
<polyline points="255.50,48.47 256.00,47.41 256.50,48.09 257.00,48.39 257.50,48.67 258.00,48.01 258.50,47.35 259.00,48.78 259.50,47.86 260.00,48.79 260.50,46.99 261.00,47.28 261.50,47.90 262.00,47.23 262.50,47.94 263.00,48.28 263.50,47.75 264.00,47.95 264.50,47.08 265.00,47.73 265.50,48.19 266.00,47.17 266.50,48.20 267.00,46.77 267.50,47.33 268.00,46.71 268.50,47.48 269.00,48.18 269.50,48.08 270.00,48.13 270.50,46.83 271.00,46.66 271.50,47.00 272.00,46.44 272.50,46.95 273.00,46.62 273.50,46.87 274.00,46.86 274.50,47.02 275.00,46.33 275.50,47.55 276.00,46.24 276.50,47.12 277.00,46.16 277.50,47.27 278.00,47.09 278.50,47.59 279.00,46.66 279.50,47.45 280.00,46.07 280.50,45.98 281.00,46.30 281.50,46.39 282.00,46.75 282.50,46.02 283.00,46.59 283.50,47.11 284.00,45.41 284.50,46.92 285.00,45.23 285.50,46.36 286.00,46.13 286.50,46.78 287.00,46.36 287.50,45.14 288.00,45.57 288.50,46.53 289.00,45.56 289.50,46.48 290.00,45.37 290.50,45.85 291.00,45.40 291.50,45.23 292.00,45.86 292.50,45.15 293.00,44.03 293.50,44.81 294.00,45.06 294.50,44.70 295.00,44.77 295.50,43.20 296.00,43.68 296.50,43.53 297.00,43.48 297.50,43.92 298.00,44.86 298.50,44.02 299.00,44.10 299.50,44.60 300.00,43.43 300.50,44.72 301.00,44.04 301.50,43.78 302.00,43.84 302.50,45.04 303.00,44.09 303.50,44.63 304.00,44.58 304.50,44.85 305.00,44.55 305.50,43.38 306.00,44.20 306.50,44.20 307.00,44.48 307.50,43.59 308.00,44.80 308.50,43.98 309.00,44.46 309.50,43.85 310.00,45.45 310.50,44.79 311.00,45.89 311.50,45.14 312.00,44.92 312.50,45.17 313.00,45.81 313.50,45.72 314.00,46.22 314.50,45.44 315.00,46.14" fill="none" stroke="#000" stroke-width="2.8" stroke-linejoin="round"/>
<path d="M315.3,46.5 Q316.8,48 317.4,58 L319.1,155 L319.6,160.3 Q322,158.5 324,155.5 Q326,151 326.8,130 L328.5,90 L329.6,60 L331,46 Q331.8,43.5 333.5,41.5 L337.4,37.6" fill="none" stroke="#000" stroke-width="2"/>
<polyline points="337.40,36.97 337.90,37.95 338.40,36.97 338.90,36.98 339.40,37.17 339.90,37.41 340.40,36.23 340.90,37.77 341.40,37.74 341.90,36.58 342.40,36.85 342.90,36.56 343.40,37.41 343.90,37.52 344.40,37.48 344.90,36.69 345.40,37.76 345.90,38.27 346.40,37.26 346.90,38.15 347.40,38.28 347.90,37.32 348.40,38.93 348.90,38.22 349.40,38.90 349.90,37.91 350.40,38.18 350.90,38.38 351.40,38.25 351.90,38.55 352.40,38.08 352.90,38.72 353.40,38.28 353.90,38.81 354.40,38.33 354.90,39.42 355.40,39.11 355.90,39.85 356.40,39.01 356.90,39.75 357.40,40.00 357.90,39.15 358.40,39.51 358.90,38.76 359.40,38.45 359.90,39.72 360.40,38.55 360.90,39.28 361.40,38.82 361.90,38.59 362.40,40.05 362.90,39.16 363.40,40.05 363.90,40.19 364.40,38.80 364.90,40.09 365.40,39.91 365.90,39.09 366.40,39.70 366.90,39.96 367.40,39.35 367.90,39.49 368.40,39.10 368.90,39.87 369.40,40.53 369.90,40.61 370.40,39.79 370.90,40.97 371.40,40.03 371.90,39.78 372.40,40.27 372.90,41.46 373.40,40.56 373.90,41.44 374.40,42.12 374.90,41.82 375.40,41.96 375.90,42.68 376.40,42.93 376.90,41.64 377.40,41.60 377.90,42.14 378.40,43.26 378.90,42.51 379.40,42.45 379.90,43.67 380.40,42.13 380.90,42.66 381.40,42.97 381.90,42.60 382.40,42.70 382.90,42.57 383.40,43.74 383.90,43.96 384.40,42.64 384.90,42.93 385.40,44.29 385.90,42.98 386.40,44.21 386.90,42.99 387.40,43.31 387.90,43.37 388.40,43.52 388.90,43.22 389.40,43.22 389.90,44.71 390.40,43.74 390.90,44.43 391.40,43.93 391.90,43.19 392.40,43.25 392.90,44.91 393.40,43.42 393.90,44.49 394.40,43.36 394.90,43.62 395.40,43.80 395.90,44.41 396.40,44.65 396.90,45.01 397.40,44.23 397.90,43.49 398.40,44.59 398.90,44.83 399.40,43.60 399.90,44.31 400.40,44.27 400.90,44.78 401.40,44.96 401.90,43.64 402.40,44.09 402.90,43.67 403.40,44.26 403.90,44.16 404.40,44.00 404.90,44.67 405.40,44.65 405.90,43.80 406.40,44.38 406.90,44.48 407.40,45.04 407.90,45.42 408.40,45.52 408.90,45.83 409.40,44.61 409.90,45.12 410.40,44.69 410.90,45.61 411.40,44.44 411.90,44.74 412.40,45.94 412.90,45.87 413.40,46.42 413.90,44.90 414.40,45.14 414.90,45.92 415.40,45.27 415.90,46.53 416.40,45.04 416.90,45.47 417.40,45.28 417.90,46.61 418.40,46.32 418.90,45.15 419.40,45.16 419.90,45.56 420.40,45.64 420.90,44.70 421.40,44.72 421.90,44.76 422.40,44.44 422.90,45.59 423.40,44.68 423.90,45.39 424.40,44.66 424.90,44.60 425.40,44.65 425.90,43.75 426.40,45.24 426.90,43.63 427.40,44.22 427.90,43.42 428.40,44.44 428.90,43.95 429.40,43.71 429.90,44.00 430.40,43.58 430.90,42.81 431.40,44.13 431.90,43.57 432.40,42.44 432.90,42.59 433.40,43.78 433.90,42.59 434.40,42.98 434.90,42.82 435.40,43.50 435.90,43.63 436.40,42.21 436.90,42.30 437.40,42.38 437.90,42.24 438.40,43.80 438.90,42.98 439.40,43.80 439.90,42.82 440.40,43.03 440.90,42.74 441.40,43.08 441.90,43.81 442.40,43.31 442.90,43.25 443.40,43.80 443.90,43.91 444.40,42.89 444.90,44.48 445.40,43.49 445.90,44.12 446.40,43.54 446.90,43.66 447.40,43.87 447.90,43.66 448.40,43.47 448.90,44.20 449.40,44.84 449.90,43.70 450.40,44.43 450.90,45.04 451.40,44.04 451.90,44.66 452.40,44.38 452.90,44.37 453.40,44.76 453.90,44.26 454.40,43.53 454.90,44.13 455.40,43.55 455.90,43.58 456.40,45.18 456.90,44.18 457.40,44.05 457.90,45.19 458.40,43.61 458.90,43.48 459.40,44.42 459.90,44.08 460.40,43.88 460.90,43.71 461.40,44.12 461.90,44.08 462.40,44.08 462.90,43.57 463.40,44.50 463.90,43.46 464.40,44.06 464.90,44.30 465.40,43.39 465.90,43.61 466.40,43.96 466.90,44.56 467.40,43.49 467.90,44.72 468.40,43.66 468.90,44.82 469.40,45.10" fill="none" stroke="#000" stroke-width="2.8" stroke-linejoin="round"/>
<text x="227.1" y="217.5" font-family="Liberation Sans" font-weight="bold" font-size="21" fill="#000" text-anchor="start" >D</text>
<text x="279.3" y="218.1" font-family="Liberation Sans" font-weight="bold" font-size="9.6" fill="#2648a0" text-anchor="start" >Delta</text>
<text x="315.8" y="218.1" font-family="Liberation Sans" font-weight="bold" font-size="9.6" fill="#f5a21b" text-anchor="start" >Theta</text>
<text x="355.7" y="218.1" font-family="Liberation Sans" font-weight="bold" font-size="9.6" fill="#1b8a32" text-anchor="start" >Alpha</text>
<text x="398" y="218.1" font-family="Liberation Sans" font-weight="bold" font-size="9.6" fill="#e8231f" text-anchor="start" >Beta</text>
<text x="432" y="218.1" font-family="Liberation Sans" font-weight="bold" font-size="9.6" fill="#7a208f" text-anchor="start" >Gamma</text>
<rect x="290.3" y="221" width="3.3" height="130" fill="#b5dde8"/>
<path d="M273.3,222.4 L273.3,351.6 L470,351.6" fill="none" stroke="#111" stroke-width="1.2"/>
<line x1="268.7" y1="235.60000000000002" x2="273.3" y2="235.60000000000002" stroke="#111" stroke-width="1.1"/>
<text x="266.1" y="238.90000000000003" font-family="Liberation Sans" font-size="9.2" text-anchor="end" fill="#000" stroke="#000" stroke-width="0.25">10</text>
<line x1="268.7" y1="257.8" x2="273.3" y2="257.8" stroke="#111" stroke-width="1.1"/>
<text x="266.1" y="261.1" font-family="Liberation Sans" font-size="9.2" text-anchor="end" fill="#000" stroke="#000" stroke-width="0.25">0</text>
<line x1="268.7" y1="280.0" x2="273.3" y2="280.0" stroke="#111" stroke-width="1.1"/>
<text x="266.1" y="283.3" font-family="Liberation Sans" font-size="9.2" text-anchor="end" fill="#000" stroke="#000" stroke-width="0.25">&#8722;10</text>
<line x1="268.7" y1="302.20000000000005" x2="273.3" y2="302.20000000000005" stroke="#111" stroke-width="1.1"/>
<text x="266.1" y="305.50000000000006" font-family="Liberation Sans" font-size="9.2" text-anchor="end" fill="#000" stroke="#000" stroke-width="0.25">&#8722;20</text>
<line x1="268.7" y1="324.40000000000003" x2="273.3" y2="324.40000000000003" stroke="#111" stroke-width="1.1"/>
<text x="266.1" y="327.70000000000005" font-family="Liberation Sans" font-size="9.2" text-anchor="end" fill="#000" stroke="#000" stroke-width="0.25">&#8722;30</text>
<line x1="268.7" y1="346.6" x2="273.3" y2="346.6" stroke="#111" stroke-width="1.1"/>
<text x="266.1" y="349.90000000000003" font-family="Liberation Sans" font-size="9.2" text-anchor="end" fill="#000" stroke="#000" stroke-width="0.25">&#8722;40</text>
<line x1="282.6" y1="351.6" x2="282.6" y2="356.5" stroke="#111" stroke-width="1.1"/>
<text x="0" y="0" font-family="Liberation Sans" font-weight="bold" font-size="8.4" text-anchor="end" fill="#111" transform="translate(280.8,367.4) rotate(-45)">bf</text>
<line x1="300.91" y1="351.6" x2="300.91" y2="356.5" stroke="#111" stroke-width="1.1"/>
<text x="0" y="0" font-family="Liberation Sans" font-weight="bold" font-size="8.4" text-anchor="end" fill="#111" transform="translate(299.11,367.4) rotate(-45)">aft</text>
<line x1="319.22" y1="351.6" x2="319.22" y2="356.5" stroke="#111" stroke-width="1.1"/>
<text x="0" y="0" font-family="Liberation Sans" font-weight="bold" font-size="8.4" text-anchor="end" fill="#111" transform="translate(317.42,367.4) rotate(-45)">ons</text>
<line x1="337.53000000000003" y1="351.6" x2="337.53000000000003" y2="356.5" stroke="#111" stroke-width="1.1"/>
<text x="0" y="0" font-family="Liberation Sans" font-weight="bold" font-size="8.4" text-anchor="end" fill="#111" transform="translate(335.73,367.4) rotate(-45)">dep</text>
<line x1="355.84000000000003" y1="351.6" x2="355.84000000000003" y2="356.5" stroke="#111" stroke-width="1.1"/>
<text x="0" y="0" font-family="Liberation Sans" font-weight="bold" font-size="8.4" text-anchor="end" fill="#111" transform="translate(354.04,367.4) rotate(-45)">r1</text>
<line x1="374.15000000000003" y1="351.6" x2="374.15000000000003" y2="356.5" stroke="#111" stroke-width="1.1"/>
<text x="0" y="0" font-family="Liberation Sans" font-weight="bold" font-size="8.4" text-anchor="end" fill="#111" transform="translate(372.35,367.4) rotate(-45)">r2</text>
<line x1="392.46000000000004" y1="351.6" x2="392.46000000000004" y2="356.5" stroke="#111" stroke-width="1.1"/>
<text x="0" y="0" font-family="Liberation Sans" font-weight="bold" font-size="8.4" text-anchor="end" fill="#111" transform="translate(390.66,367.4) rotate(-45)">r3</text>
<line x1="410.77" y1="351.6" x2="410.77" y2="356.5" stroke="#111" stroke-width="1.1"/>
<text x="0" y="0" font-family="Liberation Sans" font-weight="bold" font-size="8.4" text-anchor="end" fill="#111" transform="translate(408.96999999999997,367.4) rotate(-45)">r4</text>
<line x1="429.08000000000004" y1="351.6" x2="429.08000000000004" y2="356.5" stroke="#111" stroke-width="1.1"/>
<text x="0" y="0" font-family="Liberation Sans" font-weight="bold" font-size="8.4" text-anchor="end" fill="#111" transform="translate(427.28000000000003,367.4) rotate(-45)">r5</text>
<line x1="447.39" y1="351.6" x2="447.39" y2="356.5" stroke="#111" stroke-width="1.1"/>
<text x="0" y="0" font-family="Liberation Sans" font-weight="bold" font-size="8.4" text-anchor="end" fill="#111" transform="translate(445.59,367.4) rotate(-45)">r6</text>
<line x1="465.70000000000005" y1="351.6" x2="465.70000000000005" y2="356.5" stroke="#111" stroke-width="1.1"/>
<text x="0" y="0" font-family="Liberation Sans" font-weight="bold" font-size="8.4" text-anchor="end" fill="#111" transform="translate(463.90000000000003,367.4) rotate(-45)">r7</text>
<line x1="270" y1="257.8" x2="473.5" y2="257.8" stroke="#333" stroke-width="1.2" stroke-dasharray="2.2,2"/>
<text x="0" y="0" font-family="Liberation Sans" font-weight="bold" font-size="12.6" transform="translate(247.8,347.2) rotate(-90)">% RMS Change</text>
<path d="M282.60,257.80 L300.91,302.20 L319.22,330.39 L337.53,339.27 L355.84,330.62 L374.15,311.97 L392.46,290.66 L410.77,266.68 L429.08,261.35 L447.39,258.24 L465.70,251.36" fill="none" stroke="#1f3d99" stroke-width="1.5"/>
<path d="M300.91,298.42600000000004 L300.91,305.97400000000005 M298.91,298.42600000000004 L302.91,298.42600000000004 M298.91,305.97400000000005 L302.91,305.97400000000005" fill="none" stroke="#1f3d99" stroke-width="0.9" opacity="0.75"/>
<path d="M319.22,324.178 L319.22,336.61 M317.22,324.178 L321.22,324.178 M317.22,336.61 L321.22,336.61" fill="none" stroke="#1f3d99" stroke-width="0.9" opacity="0.75"/>
<path d="M337.53000000000003,332.836 L337.53000000000003,345.712 M335.53000000000003,332.836 L339.53000000000003,332.836 M335.53000000000003,345.712 L339.53000000000003,345.712" fill="none" stroke="#1f3d99" stroke-width="0.9" opacity="0.75"/>
<path d="M355.84000000000003,325.288 L355.84000000000003,335.94399999999996 M353.84000000000003,325.288 L357.84000000000003,325.288 M353.84000000000003,335.94399999999996 L357.84000000000003,335.94399999999996" fill="none" stroke="#1f3d99" stroke-width="0.9" opacity="0.75"/>
<path d="M374.15000000000003,306.862 L374.15000000000003,317.074 M372.15000000000003,306.862 L376.15000000000003,306.862 M372.15000000000003,317.074 L376.15000000000003,317.074" fill="none" stroke="#1f3d99" stroke-width="0.9" opacity="0.75"/>
<path d="M392.46000000000004,286.216 L392.46000000000004,295.096 M390.46000000000004,286.216 L394.46000000000004,286.216 M390.46000000000004,295.096 L394.46000000000004,295.096" fill="none" stroke="#1f3d99" stroke-width="0.9" opacity="0.75"/>
<path d="M410.77,263.35 L410.77,270.01 M408.77,263.35 L412.77,263.35 M408.77,270.01 L412.77,270.01" fill="none" stroke="#1f3d99" stroke-width="0.9" opacity="0.75"/>
<path d="M429.08000000000004,258.02200000000005 L429.08000000000004,264.682 M427.08000000000004,258.02200000000005 L431.08000000000004,258.02200000000005 M427.08000000000004,264.682 L431.08000000000004,264.682" fill="none" stroke="#1f3d99" stroke-width="0.9" opacity="0.75"/>
<path d="M447.39,254.91400000000002 L447.39,261.574 M445.39,254.91400000000002 L449.39,254.91400000000002 M445.39,261.574 L449.39,261.574" fill="none" stroke="#1f3d99" stroke-width="0.9" opacity="0.75"/>
<path d="M465.70000000000005,248.032 L465.70000000000005,254.69200000000004 M463.70000000000005,248.032 L467.70000000000005,248.032 M463.70000000000005,254.69200000000004 L467.70000000000005,254.69200000000004" fill="none" stroke="#1f3d99" stroke-width="0.9" opacity="0.75"/>
<path d="M282.60,257.80 L300.91,296.65 L319.22,313.97 L337.53,317.96 L355.84,314.41 L374.15,304.42 L392.46,289.99 L410.77,270.23 L429.08,267.79 L447.39,262.68 L465.70,260.69" fill="none" stroke="#f68b1f" stroke-width="1.5"/>
<path d="M300.91,292.87600000000003 L300.91,300.42400000000004 M298.91,292.87600000000003 L302.91,292.87600000000003 M298.91,300.42400000000004 L302.91,300.42400000000004" fill="none" stroke="#f68b1f" stroke-width="0.9" opacity="0.75"/>
<path d="M319.22,309.526 L319.22,318.406 M317.22,309.526 L321.22,309.526 M317.22,318.406 L321.22,318.406" fill="none" stroke="#f68b1f" stroke-width="0.9" opacity="0.75"/>
<path d="M337.53000000000003,313.078 L337.53000000000003,322.846 M335.53000000000003,313.078 L339.53000000000003,313.078 M335.53000000000003,322.846 L339.53000000000003,322.846" fill="none" stroke="#f68b1f" stroke-width="0.9" opacity="0.75"/>
<path d="M355.84000000000003,309.97 L355.84000000000003,318.85 M353.84000000000003,309.97 L357.84000000000003,309.97 M353.84000000000003,318.85 L357.84000000000003,318.85" fill="none" stroke="#f68b1f" stroke-width="0.9" opacity="0.75"/>
<path d="M374.15000000000003,299.98 L374.15000000000003,308.86 M372.15000000000003,299.98 L376.15000000000003,299.98 M372.15000000000003,308.86 L376.15000000000003,308.86" fill="none" stroke="#f68b1f" stroke-width="0.9" opacity="0.75"/>
<path d="M392.46000000000004,284.44 L392.46000000000004,295.54 M390.46000000000004,284.44 L394.46000000000004,284.44 M390.46000000000004,295.54 L394.46000000000004,295.54" fill="none" stroke="#f68b1f" stroke-width="0.9" opacity="0.75"/>
<path d="M410.77,266.90200000000004 L410.77,273.562 M408.77,266.90200000000004 L412.77,266.90200000000004 M408.77,273.562 L412.77,273.562" fill="none" stroke="#f68b1f" stroke-width="0.9" opacity="0.75"/>
<path d="M429.08000000000004,264.46000000000004 L429.08000000000004,271.12 M427.08000000000004,264.46000000000004 L431.08000000000004,264.46000000000004 M427.08000000000004,271.12 L431.08000000000004,271.12" fill="none" stroke="#f68b1f" stroke-width="0.9" opacity="0.75"/>
<path d="M447.39,260.02000000000004 L447.39,265.348 M445.39,260.02000000000004 L449.39,260.02000000000004 M445.39,265.348 L449.39,265.348" fill="none" stroke="#f68b1f" stroke-width="0.9" opacity="0.75"/>
<path d="M465.70000000000005,258.02200000000005 L465.70000000000005,263.35 M463.70000000000005,258.02200000000005 L467.70000000000005,258.02200000000005 M463.70000000000005,263.35 L467.70000000000005,263.35" fill="none" stroke="#f68b1f" stroke-width="0.9" opacity="0.75"/>
<path d="M282.60,257.80 L300.91,293.32 L319.22,309.53 L337.53,309.53 L355.84,304.86 L374.15,293.76 L392.46,282.22 L410.77,264.68 L429.08,265.79 L447.39,266.68 L465.70,265.79" fill="none" stroke="#1a8c2e" stroke-width="1.5"/>
<path d="M300.91,288.88 L300.91,297.76 M298.91,288.88 L302.91,288.88 M298.91,297.76 L302.91,297.76" fill="none" stroke="#1a8c2e" stroke-width="0.9" opacity="0.75"/>
<path d="M319.22,305.752 L319.22,313.3 M317.22,305.752 L321.22,305.752 M317.22,313.3 L321.22,313.3" fill="none" stroke="#1a8c2e" stroke-width="0.9" opacity="0.75"/>
<path d="M337.53000000000003,304.86400000000003 L337.53000000000003,314.188 M335.53000000000003,304.86400000000003 L339.53000000000003,304.86400000000003 M335.53000000000003,314.188 L339.53000000000003,314.188" fill="none" stroke="#1a8c2e" stroke-width="0.9" opacity="0.75"/>
<path d="M355.84000000000003,301.09000000000003 L355.84000000000003,308.63800000000003 M353.84000000000003,301.09000000000003 L357.84000000000003,301.09000000000003 M353.84000000000003,308.63800000000003 L357.84000000000003,308.63800000000003" fill="none" stroke="#1a8c2e" stroke-width="0.9" opacity="0.75"/>
<path d="M374.15000000000003,289.324 L374.15000000000003,298.204 M372.15000000000003,289.324 L376.15000000000003,289.324 M372.15000000000003,298.204 L376.15000000000003,298.204" fill="none" stroke="#1a8c2e" stroke-width="0.9" opacity="0.75"/>
<path d="M392.46000000000004,278.89000000000004 L392.46000000000004,285.55 M390.46000000000004,278.89000000000004 L394.46000000000004,278.89000000000004 M390.46000000000004,285.55 L394.46000000000004,285.55" fill="none" stroke="#1a8c2e" stroke-width="0.9" opacity="0.75"/>
<path d="M410.77,261.574 L410.77,267.79 M408.77,261.574 L412.77,261.574 M408.77,267.79 L412.77,267.79" fill="none" stroke="#1a8c2e" stroke-width="0.9" opacity="0.75"/>
<path d="M429.08000000000004,262.684 L429.08000000000004,268.90000000000003 M427.08000000000004,262.684 L431.08000000000004,262.684 M427.08000000000004,268.90000000000003 L431.08000000000004,268.90000000000003" fill="none" stroke="#1a8c2e" stroke-width="0.9" opacity="0.75"/>
<path d="M447.39,263.572 L447.39,269.788 M445.39,263.572 L449.39,263.572 M445.39,269.788 L449.39,269.788" fill="none" stroke="#1a8c2e" stroke-width="0.9" opacity="0.75"/>
<path d="M465.70000000000005,262.684 L465.70000000000005,268.90000000000003 M463.70000000000005,262.684 L467.70000000000005,262.684 M463.70000000000005,268.90000000000003 L467.70000000000005,268.90000000000003" fill="none" stroke="#1a8c2e" stroke-width="0.9" opacity="0.75"/>
<path d="M282.60,257.80 L300.91,272.45 L319.22,287.55 L337.53,290.43 L355.84,297.09 L374.15,288.44 L392.46,276.00 L410.77,258.69 L429.08,257.80 L447.39,259.35 L465.70,259.80" fill="none" stroke="#e8231f" stroke-width="1.5"/>
<path d="M300.91,269.344 L300.91,275.56 M298.91,269.344 L302.91,269.344 M298.91,275.56 L302.91,275.56" fill="none" stroke="#e8231f" stroke-width="0.9" opacity="0.75"/>
<path d="M319.22,282.886 L319.22,292.21 M317.22,282.886 L321.22,282.886 M317.22,292.21 L321.22,292.21" fill="none" stroke="#e8231f" stroke-width="0.9" opacity="0.75"/>
<path d="M337.53000000000003,285.77200000000005 L337.53000000000003,295.096 M335.53000000000003,285.77200000000005 L339.53000000000003,285.77200000000005 M335.53000000000003,295.096 L339.53000000000003,295.096" fill="none" stroke="#e8231f" stroke-width="0.9" opacity="0.75"/>
<path d="M355.84000000000003,294.43 L355.84000000000003,299.758 M353.84000000000003,294.43 L357.84000000000003,294.43 M353.84000000000003,299.758 L357.84000000000003,299.758" fill="none" stroke="#e8231f" stroke-width="0.9" opacity="0.75"/>
<path d="M374.15000000000003,285.10600000000005 L374.15000000000003,291.766 M372.15000000000003,285.10600000000005 L376.15000000000003,285.10600000000005 M372.15000000000003,291.766 L376.15000000000003,291.766" fill="none" stroke="#e8231f" stroke-width="0.9" opacity="0.75"/>
<path d="M392.46000000000004,272.23 L392.46000000000004,279.778 M390.46000000000004,272.23 L394.46000000000004,272.23 M390.46000000000004,279.778 L394.46000000000004,279.778" fill="none" stroke="#e8231f" stroke-width="0.9" opacity="0.75"/>
<path d="M410.77,252.028 L410.77,265.348 M408.77,252.028 L412.77,252.028 M408.77,265.348 L412.77,265.348" fill="none" stroke="#e8231f" stroke-width="0.9" opacity="0.75"/>
<path d="M429.08000000000004,254.47 L429.08000000000004,261.13 M427.08000000000004,254.47 L431.08000000000004,254.47 M427.08000000000004,261.13 L431.08000000000004,261.13" fill="none" stroke="#e8231f" stroke-width="0.9" opacity="0.75"/>
<path d="M447.39,256.246 L447.39,262.462 M445.39,256.246 L449.39,256.246 M445.39,262.462 L449.39,262.462" fill="none" stroke="#e8231f" stroke-width="0.9" opacity="0.75"/>
<path d="M465.70000000000005,256.69 L465.70000000000005,262.906 M463.70000000000005,256.69 L467.70000000000005,256.69 M463.70000000000005,262.906 L467.70000000000005,262.906" fill="none" stroke="#e8231f" stroke-width="0.9" opacity="0.75"/>
<path d="M282.60,257.80 L300.91,249.59 L319.22,264.68 L337.53,278.89 L355.84,291.99 L374.15,276.67 L392.46,246.48 L410.77,241.37 L429.08,241.82 L447.39,250.47 L465.70,244.48" fill="none" stroke="#7a208f" stroke-width="1.5"/>
<path d="M300.91,246.03400000000002 L300.91,253.138 M298.91,246.03400000000002 L302.91,246.03400000000002 M298.91,253.138 L302.91,253.138" fill="none" stroke="#7a208f" stroke-width="0.9" opacity="0.75"/>
<path d="M319.22,261.13 L319.22,268.23400000000004 M317.22,261.13 L321.22,261.13 M317.22,268.23400000000004 L321.22,268.23400000000004" fill="none" stroke="#7a208f" stroke-width="0.9" opacity="0.75"/>
<path d="M337.53000000000003,276.00399999999996 L337.53000000000003,281.776 M335.53000000000003,276.00399999999996 L339.53000000000003,276.00399999999996 M335.53000000000003,281.776 L339.53000000000003,281.776" fill="none" stroke="#7a208f" stroke-width="0.9" opacity="0.75"/>
<path d="M355.84000000000003,289.546 L355.84000000000003,294.43 M353.84000000000003,289.546 L357.84000000000003,289.546 M353.84000000000003,294.43 L357.84000000000003,294.43" fill="none" stroke="#7a208f" stroke-width="0.9" opacity="0.75"/>
<path d="M374.15000000000003,266.68 L374.15000000000003,286.66 M372.15000000000003,266.68 L376.15000000000003,266.68 M372.15000000000003,286.66 L376.15000000000003,286.66" fill="none" stroke="#7a208f" stroke-width="0.9" opacity="0.75"/>
<path d="M392.46000000000004,228.496 L392.46000000000004,264.46000000000004 M390.46000000000004,228.496 L394.46000000000004,228.496 M390.46000000000004,264.46000000000004 L394.46000000000004,264.46000000000004" fill="none" stroke="#7a208f" stroke-width="0.9" opacity="0.75"/>
<path d="M410.77,233.824 L410.77,248.92000000000002 M408.77,233.824 L412.77,233.824 M408.77,248.92000000000002 L412.77,248.92000000000002" fill="none" stroke="#7a208f" stroke-width="0.9" opacity="0.75"/>
<path d="M429.08000000000004,236.932 L429.08000000000004,246.70000000000002 M427.08000000000004,236.932 L431.08000000000004,236.932 M427.08000000000004,246.70000000000002 L431.08000000000004,246.70000000000002" fill="none" stroke="#7a208f" stroke-width="0.9" opacity="0.75"/>
<path d="M447.39,246.70000000000002 L447.39,254.24800000000002 M445.39,246.70000000000002 L449.39,246.70000000000002 M445.39,254.24800000000002 L449.39,254.24800000000002" fill="none" stroke="#7a208f" stroke-width="0.9" opacity="0.75"/>
<path d="M465.70000000000005,240.04000000000002 L465.70000000000005,248.92000000000002 M463.70000000000005,240.04000000000002 L467.70000000000005,240.04000000000002 M463.70000000000005,248.92000000000002 L467.70000000000005,248.92000000000002" fill="none" stroke="#7a208f" stroke-width="0.9" opacity="0.75"/>
</svg>
</body></html>
